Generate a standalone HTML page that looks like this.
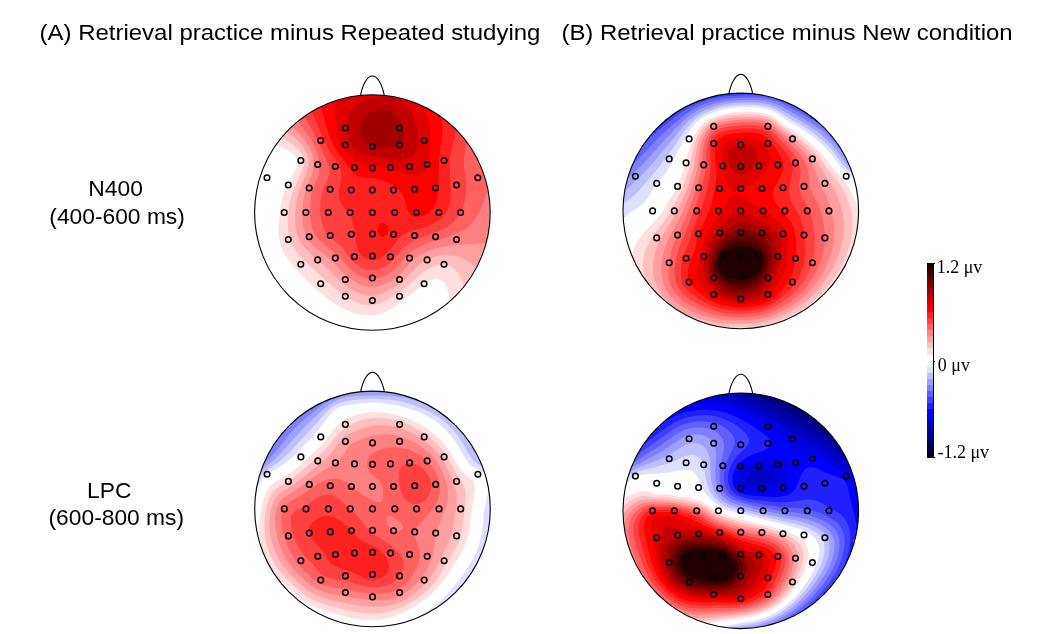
<!DOCTYPE html>
<html><head><meta charset="utf-8"><title>Topographic maps</title>
<style>
html,body{margin:0;padding:0;background:#fff}
body{width:1042px;height:634px;position:relative;overflow:hidden;font-family:"Liberation Sans",sans-serif;color:#000}
svg{position:absolute;left:0;top:0}
text{fill:#000}
.ttl{font-size:22.4px}
.lab{font-size:22.8px;text-anchor:middle}
.cb{font-family:"Liberation Serif",serif;font-size:18px}
.ol{fill:none;stroke:#000;stroke-width:1.1}
.el{fill:none;stroke:#000;stroke-width:1.5}
</style></head><body>
<svg width="1042" height="634" viewBox="0 0 1042 634">
<defs><clipPath id="hc"><circle r="117.6"/></clipPath></defs>
<g transform="translate(372.4 212.5)"><g clip-path="url(#hc)">
<rect x="-120" y="-120" width="240" height="240" fill="#fff"/>
<path fill="#ffdfdf" d="M-123 -123L123 -123 123 123 102.7 123 97.5 118.9 93 114.7 90 111.5 87 107.8 85 105 82.5 100.8 80.2 96 79 93 78 90 76.9 85.5 75.4 78 74.6 75 74 73.5 73.2 72 72.3 70.5 70.9 69 69 67.6 67.5 66.9 66 66.5 64.5 66.4 63 66.4 61.5 66.6 58.5 67.5 55.5 68.8 54 69.7 52.5 70.6 49.5 72.9 42 79.2 39 81.6 30 88 22.5 94 18 97 15 98.6 10.5 100.5 6 101.8 1.5 102.6 -3 102.9 -6 102.8 -9 102.6 -13.5 101.9 -16.5 101.1 -21 99.7 -24 98.5 -27 97.2 -31.5 94.8 -36 92.1 -39.3 90 -43.5 87 -47.4 84 -52.5 79.7 -57 75.8 -61.5 71.7 -66 67.3 -71.6 61.5 -79.8 52.5 -83.5 48 -86.6 43.5 -89.1 39 -90.4 36 -91.5 33 -92.4 30 -93 27 -93.5 24 -93.9 21 -94 16.5 -93.7 10.5 -91.8 -6 -91.1 -10.5 -90.4 -13.5 -89.5 -16.5 -88.3 -19.5 -86.8 -22.5 -84 -27.7 -76 -45 -75 -48 -74.8 -49.5 -74.7 -51 -75 -52.5 -75.7 -54 -76.5 -55.3 -78 -57.1 -79.5 -58.5 -81 -59.7 -84 -61.7 -90 -64.9 -103.5 -71.2 -111.3 -75 -117 -78 -123 -81.4Z"/>
<path fill="#ffbfbf" d="M-123 -123L123 -123 123 103.2 118.5 101.4 115.5 99.9 112.5 98.3 109.5 96.5 106.5 94.5 103.5 92.2 99.5 88.5 97.5 86.3 96 84.4 94 81 92.7 78 90.4 70.5 89.3 67.5 87.9 64.5 87.1 63 85.5 60.6 83.8 58.5 82.4 57 80.6 55.5 78.3 54 76.5 53.1 75 52.5 73.5 52.1 72 51.9 70.5 51.8 69 51.9 66 52.4 63 53.3 61.1 54 58.5 55.1 55.5 56.7 52.5 58.6 48 62 45 64.6 38.7 70.5 34.5 74.1 31.5 76.3 24.2 81 18 85.3 13.5 88 9 90.3 4.5 91.8 1.5 92.4 0 92.6 -3 92.7 -7.5 92.3 -10.5 91.7 -13.5 90.8 -18 89 -21 87.5 -24 85.7 -31.5 80.7 -37.5 76.1 -43.9 70.5 -67.5 48.5 -72 43.9 -75 40.5 -76.5 38.5 -78.1 36 -80.5 31.5 -82.2 27 -83.1 24 -83.7 21 -84.3 18 -84.6 15 -84.7 12 -84.8 7.5 -84.3 0 -83.3 -7.5 -81.9 -13.5 -80 -19.5 -75.7 -30 -70.5 -41.5 -69.3 -45 -68.5 -48 -68.3 -51 -68.4 -52.5 -68.7 -54 -69.1 -55.5 -70.5 -58.3 -72 -60.5 -73.5 -62.4 -75 -63.9 -78 -66.6 -82.5 -69.8 -95.5 -78 -104.3 -84 -114.3 -91.5 -123 -98.6Z"/>
<path fill="#ff9f9f" d="M-123 -123L123 -123 123 66 120 65 117 63.6 112.5 61.1 108 58.1 100.8 52.5 96.7 49.5 94.4 48 91.5 46.4 87 44.5 82.5 43.2 78 42.5 73.5 42.3 69 42.7 66 43.3 63 44.1 60 45.1 57 46.3 52.5 48.6 48.7 51 44.9 54 40.5 58.2 33.2 66 30 68.9 27.9 70.5 22.5 74 15 78.2 10.5 80.4 6 82.1 3 82.9 1.5 83.2 -1.5 83.4 -4.5 83.2 -6 83 -9 82.3 -13.5 80.7 -18 78.5 -22.5 75.7 -27 72.4 -31.2 69 -34.6 66 -45 55.9 -48 53.1 -52.2 49.5 -61.3 42 -66 37.5 -69 34 -71.6 30 -73.8 25.5 -75.4 21 -76.1 18 -76.6 15 -77.2 9 -77.3 3 -77.2 0 -76.8 -4.5 -75.5 -12 -74.5 -16.5 -73.2 -21 -71.1 -27 -65.9 -39 -64.9 -42 -64.1 -45 -63.6 -49.5 -63.7 -52.5 -64.2 -55.5 -64.6 -57 -66 -60.6 -67.3 -63 -69 -65.5 -70.6 -67.5 -73.5 -70.6 -78 -74.7 -86.2 -81 -93.2 -87 -98.1 -91.5 -102.7 -96 -111.3 -105 -116.7 -111 -123 -118.5Z"/>
<path fill="#ff8080" d="M-109 -123L123 -123 123 22.4 120 25.4 117 27.6 114 29.2 111.9 30 109.5 30.7 106.5 31.3 103.5 31.6 85.5 32.4 79.5 32.9 75 33.5 69 34.6 64.5 35.7 58.5 37.6 54 39.4 49.5 41.5 46.5 43.2 43.5 45.2 40.5 47.6 37.5 50.6 28.5 60.9 26.3 63 24 64.9 21 67 16.5 69.5 12 71.6 9 72.8 4.5 74 1.5 74.5 -1.5 74.6 -4.5 74.3 -7.5 73.7 -10.5 72.8 -13.5 71.5 -18 69 -22.5 65.8 -25.5 63.3 -28.5 60.7 -32.2 57 -39 49.5 -42 46.7 -54 37.5 -58.5 33.7 -60.7 31.5 -63 28.8 -64.5 26.7 -66 24 -67.3 21 -68.2 18 -68.9 15 -69.4 12 -69.8 9 -70.2 4.5 -70.2 1.5 -70 -3 -69.6 -7.5 -68.8 -13.5 -68 -18 -66.9 -22.5 -66 -25.3 -65.3 -27 -62.5 -33 -61.3 -36 -60.3 -39 -59.6 -42 -59.1 -46.5 -59 -51 -59.4 -55.5 -60.1 -58.5 -61.2 -61.5 -63 -65.4 -65.2 -69 -67.5 -72.3 -69 -74.1 -72 -77.5 -83.1 -88.5 -87.1 -93 -90.8 -97.5 -95.5 -103.5 -100 -109.5 -104.1 -115.5Z"/>
<path fill="#ff6060" d="M-93.9 -123L123 -123 123 -103.5 119.2 -91.5 111 -67.2 109.1 -60 108.5 -57 108.2 -54 108.1 -51 108.2 -49.5 108.6 -46.5 109.5 -44.2 111.5 -40.5 113.1 -37.5 113.7 -36 114.5 -33 114.8 -31.5 115.1 -28.5 115 -25.5 114.7 -22.5 114.1 -19.5 113.3 -16.5 112.3 -13.5 110.6 -9 108.7 -4.5 106.6 0 105 3 103.1 6 100.9 9 99.7 10.5 96.6 13.5 92.7 16.5 90.3 18 87.5 19.5 84 21.1 78 23.4 60 29.3 53.8 31.5 48 33.9 45 35.4 42 37.2 39.3 39 37.5 40.4 34.5 43.1 31.5 46.4 25.5 53.5 23.6 55.5 21 57.9 18.2 60 16.5 61.1 12 63.5 9 64.7 4.5 65.9 1.5 66.3 0 66.3 -3 66.2 -6 65.6 -9.6 64.5 -13.5 62.7 -16.5 60.9 -21 57.6 -24.9 54 -27.7 51 -33 44.5 -36 41.4 -39 38.8 -48 32 -52 28.5 -54 26.4 -55.9 24 -57.8 21 -59.2 18 -60.3 15 -61 12 -61.6 9 -62 6 -62.4 0 -62.2 -7.5 -61.8 -12 -61.3 -16.5 -60.8 -19.5 -60 -22.5 -58.9 -25.5 -56.1 -31.5 -54.9 -34.5 -53.9 -37.5 -53.3 -40.5 -53.1 -43.5 -53.5 -51 -53.8 -54 -54.4 -57 -55.3 -60 -57.1 -64.5 -59.3 -69 -61.5 -73 -63.7 -76.5 -66 -79.8 -76.1 -93 -81.4 -100.5 -84.2 -105 -87.7 -111 -91 -117Z"/>
<path fill="#ff4040" d="M-80 -123L103.2 -123 102.7 -115.5 102.1 -108 101.2 -100.5 100.3 -94.5 98.2 -84 93 -63.3 92.1 -58.5 91.7 -55.5 91.5 -51 91.7 -46.5 92.2 -42 93.4 -34.5 93.7 -30 93.7 -22.5 93.3 -18 93 -15 92.4 -12 91.7 -9 90.3 -4.5 88.2 0 86.4 3 85.4 4.5 82.9 7.5 79.8 10.5 75.7 13.5 72 15.7 67.5 18 63 19.9 49.5 24.9 43.5 27.3 39 29.5 36 31.4 33 33.8 30 36.6 27 40 21.6 46.5 18.7 49.5 15 52.6 12.8 54 10.5 55.3 7.5 56.5 4.5 57.3 1.5 57.8 0 57.8 -3 57.6 -6 57 -10 55.5 -13.5 53.6 -16.5 51.5 -19.5 48.9 -21.7 46.5 -28.5 37.2 -31.5 33.7 -34.5 30.9 -42 24.8 -44.3 22.5 -45.4 21 -47.3 18 -48.1 16.5 -49.3 13.5 -50.3 10.5 -51 7.5 -51.9 1.5 -52.1 -1.5 -52.2 -6 -51.9 -12 -51.3 -16.5 -50.1 -21 -48.4 -25.5 -44.5 -34.5 -43.5 -37.5 -42.8 -40.5 -42.7 -42 -42.7 -43.5 -43 -45 -44 -48 -46.5 -53.5 -50.6 -63 -56.3 -75 -60 -82.1 -69.8 -99 -73.6 -106.5 -76.8 -114 -78.5 -118.5Z"/>
<path fill="#ff2020" d="M-66.4 -123L81.6 -123 82.9 -115.5 83.7 -108 84.2 -100.5 84.2 -93 83.8 -87 83.1 -81 81.9 -75 78.6 -60 77.8 -55.5 77.5 -52.5 77.3 -49.5 77.4 -46.5 77.8 -28.5 78.3 -18 78.1 -13.5 77.7 -10.5 77.1 -7.5 76.1 -4.5 75.4 -3 73.8 0 72.8 1.5 70.5 4.2 67.5 6.9 64.6 9 61.5 10.8 58.5 12.3 55.5 13.5 51 15.2 39 18.5 36 19.5 33 20.8 30.2 22.5 28.3 24 27 25.2 25.5 26.9 19.5 34.9 17.3 37.5 15 40.1 13 42 11.2 43.5 9 45 7.5 45.8 6 46.5 3 47.5 1.5 47.7 0 47.8 -1.5 47.7 -3 47.4 -4.5 46.9 -6 46.3 -8.2 45 -10.1 43.5 -11.6 42 -12.7 40.5 -13.5 39.2 -14.3 37.5 -15.3 34.5 -16.3 30 -17.5 21 -19.6 12 -21 3.3 -21.6 1.5 -22.5 -0.2 -23.9 -1.5 -27.8 -4.5 -30 -6.8 -31.5 -9 -32.2 -10.5 -33 -12.9 -33.6 -16.5 -33.6 -18 -33.5 -21 -33.1 -24 -31.7 -31.5 -31.2 -36 -31.4 -40.5 -31.9 -43.5 -32.4 -45 -33 -46.6 -34.6 -49.5 -40.1 -57 -43 -61.5 -46.1 -67.5 -49 -73.5 -59.2 -97.5 -62.1 -105 -63.5 -109.5 -64.7 -114 -65.6 -118.5Z"/>
<path fill="#ff0000" d="M-51.4 -123L60.6 -123 62.6 -118.5 64.5 -114 66.5 -108 67.8 -103.5 68.7 -99 69.6 -93 69.9 -88.5 70 -84 69.8 -79.5 69.4 -75 67.3 -58.5 66.9 -54 66.6 -49.5 66.2 -25.5 66 -22.5 65.6 -19.5 64.5 -13.5 63 -8.8 61.7 -6 60.7 -4.5 59.5 -3 58.1 -1.5 56.4 0 54.3 1.5 51.5 3 49.5 3.8 46.7 4.5 45 4.7 42.7 4.5 40.5 3.8 39 3 37.5 1.7 36.3 0 35.6 -1.5 34.5 -4.5 33 -10.5 32.1 -13.5 30.9 -16.5 30.1 -18 28.5 -20.5 26.8 -22.5 25.2 -24 23.3 -25.5 21 -27 19.5 -27.8 15 -30 10.5 -31.8 6 -33.2 3 -34 0 -34.5 -9 -34.9 -12 -35.4 -13.5 -35.9 -15 -36.5 -16.5 -37.4 -18 -38.6 -19.5 -40.1 -21 -41.9 -22.5 -43.9 -27.3 -51 -33.2 -58.5 -36 -62.4 -37.3 -64.5 -39 -67.5 -41.6 -73.5 -43.8 -79.5 -47.9 -93 -49.6 -99 -51 -105 -51.7 -109.5 -52 -114 -51.9 -118.5ZM7.1 12L7.5 11.6 9 10.8 10.5 10.5 12 10.7 13.5 11.4 14.2 12 15.4 13.5 15.9 15 16 16.5 15.9 18 15.4 19.5 14.8 21 13.7 22.5 12 24 10.5 24.5 9 24.3 7.5 23.4 6.8 22.5 6 21 5.6 19.5 5.3 18 5.3 16.5 5.5 15 6 13.5Z"/>
<path fill="#e00000" d="M-30.4 -121.5L-28.7 -123 37.6 -123 39.2 -121.5 42 -118.5 45.4 -114 49.3 -108 51.8 -103.5 53.2 -100.5 54.9 -96 56.1 -91.5 57 -87 57.6 -81 57.7 -73.5 57 -58.8 56.3 -49.5 55.7 -46.5 54.4 -43.5 52.5 -40.6 51 -39 49.5 -37.9 48 -37.1 46.5 -36.7 45 -36.4 43.5 -36.4 40.5 -36.6 37.5 -37.2 33 -38.4 15.4 -43.5 4.5 -46.5 0 -47.4 -7.5 -48.3 -10.5 -48.9 -13.5 -49.9 -16.5 -51.6 -19.5 -53.9 -24 -58.1 -27 -61.3 -29.5 -64.5 -31.4 -67.5 -32.7 -70.5 -34.1 -75 -35.1 -79.5 -36.5 -88.5 -37.5 -96 -37.8 -100.5 -37.7 -105 -37.4 -108 -36.6 -111 -35.5 -114 -33.9 -117 -31.8 -120Z"/>
<path fill="#c00000" d="M5.7 -115.5L9 -116 12 -116.2 15 -116.1 16.5 -115.9 19.5 -115.2 21 -114.8 22.9 -114 25.5 -112.7 28.2 -111 30 -109.6 33.3 -106.5 35.9 -103.5 37.5 -101.3 39 -99 40.7 -96 42.1 -93 43.2 -90 44.1 -87 44.8 -84 45.2 -81 45.5 -78 45.6 -75 45.3 -70.5 45 -67.5 44.3 -64.5 43.5 -62 42.6 -60 41.6 -58.5 40.5 -57.2 39 -55.9 37.5 -55 36 -54.3 34.5 -53.8 31.5 -53.1 28.5 -52.8 24 -52.8 18 -53.3 12 -54.1 1.5 -55.9 -4.5 -57.1 -7.5 -58 -10.5 -59.2 -12.1 -60 -15 -61.8 -18 -64.1 -20 -66 -21.3 -67.5 -22.3 -69 -23.1 -70.5 -23.8 -72 -24.2 -73.5 -24.5 -75 -24.9 -78 -24.9 -81 -24.7 -90 -24.2 -94.5 -23.5 -97.5 -22.3 -100.5 -21 -103 -19.5 -105.1 -18.2 -106.5 -16.5 -108 -14.3 -109.5 -12 -110.7 -9 -111.9 -6 -112.9Z"/>
<path fill="#a00000" d="M5.5 -103.5L7.5 -103.7 9 -103.7 12 -103.3 15 -102.5 18 -101.1 21 -99.2 23 -97.5 25.7 -94.5 27.7 -91.5 29.1 -88.5 30 -86.2 30.6 -84 31.2 -81 31.3 -79.5 31.3 -76.5 30.8 -73.5 30.3 -72 29.6 -70.5 28.6 -69 27.1 -67.5 25.5 -66.5 24 -65.9 21 -65.1 18 -64.6 15 -64.4 10.5 -64.5 7.5 -64.7 4.5 -65 1.5 -65.6 0 -66 -3 -67.3 -5.8 -69 -7.6 -70.5 -9 -72 -10.5 -74.3 -11.5 -76.5 -11.9 -78 -12.2 -79.5 -12.3 -82.5 -12.1 -85.5 -11.4 -88.5 -10.5 -91 -9.5 -93 -7.5 -95.9 -6 -97.5 -4.5 -98.8 -3 -99.9 -1.5 -100.8 1.5 -102.3 3 -102.8Z"/>
<path fill="#dfdfff" d="M-123 60L-123 58.7 -118.7 66 -114.9 72 -110.7 78 -106.5 83.6 -103.5 87.2 -99.7 91.5 -96.7 94.5 -93.4 97.5 -88.5 101.5 -84 104.8 -79.1 108 -73.5 111.4 -67.5 114.8 -61.5 118 -55.5 120.8 -50.2 123 -123 123Z"/>
<path fill="#bfbfff" d="M-123 100.5L-123 100.3 -116.9 106.5 -113.7 109.5 -109.5 113.2 -103.5 118 -96.4 123 -123 123Z"/>
</g>
<path class="ol" d="M-11.9 -117.2C-9.6 -128.2 -5.2 -136.5 0 -136.5C5.2 -136.5 9.6 -128.2 11.9 -117.2"/>
<circle class="ol" r="117.8"/>
<circle class="el" cx="-27.1" cy="-84.5" r="2.8"/>
<circle class="el" cx="27.1" cy="-84.5" r="2.8"/>
<circle class="el" cx="-51.7" cy="-72.0" r="2.8"/>
<circle class="el" cx="-27.1" cy="-67.5" r="2.8"/>
<circle class="el" cx="0" cy="-66.0" r="2.8"/>
<circle class="el" cx="27.1" cy="-67.5" r="2.8"/>
<circle class="el" cx="51.7" cy="-72.0" r="2.8"/>
<circle class="el" cx="-71.6" cy="-52.0" r="2.8"/>
<circle class="el" cx="-54.7" cy="-48.0" r="2.8"/>
<circle class="el" cx="-37.1" cy="-46.0" r="2.8"/>
<circle class="el" cx="-18.0" cy="-45.0" r="2.8"/>
<circle class="el" cx="0" cy="-44.5" r="2.8"/>
<circle class="el" cx="18.0" cy="-45.0" r="2.8"/>
<circle class="el" cx="37.1" cy="-46.0" r="2.8"/>
<circle class="el" cx="54.7" cy="-48.0" r="2.8"/>
<circle class="el" cx="71.6" cy="-52.0" r="2.8"/>
<circle class="el" cx="-105.4" cy="-34.7" r="2.8"/>
<circle class="el" cx="-84.1" cy="-27.5" r="2.8"/>
<circle class="el" cx="-63.2" cy="-24.5" r="2.8"/>
<circle class="el" cx="-42.2" cy="-23.2" r="2.8"/>
<circle class="el" cx="-21.1" cy="-22.4" r="2.8"/>
<circle class="el" cx="0" cy="-22.4" r="2.8"/>
<circle class="el" cx="21.1" cy="-22.4" r="2.8"/>
<circle class="el" cx="42.2" cy="-23.2" r="2.8"/>
<circle class="el" cx="63.2" cy="-24.5" r="2.8"/>
<circle class="el" cx="84.1" cy="-27.5" r="2.8"/>
<circle class="el" cx="105.4" cy="-34.7" r="2.8"/>
<circle class="el" cx="-88.2" cy="0" r="2.8"/>
<circle class="el" cx="-66.5" cy="0" r="2.8"/>
<circle class="el" cx="-44.1" cy="0" r="2.8"/>
<circle class="el" cx="-22.3" cy="0" r="2.8"/>
<circle class="el" cx="0" cy="0" r="2.8"/>
<circle class="el" cx="22.3" cy="0" r="2.8"/>
<circle class="el" cx="44.1" cy="0" r="2.8"/>
<circle class="el" cx="66.5" cy="0" r="2.8"/>
<circle class="el" cx="88.2" cy="0" r="2.8"/>
<circle class="el" cx="-84.1" cy="27.0" r="2.8"/>
<circle class="el" cx="-63.2" cy="24.2" r="2.8"/>
<circle class="el" cx="-42.2" cy="23.0" r="2.8"/>
<circle class="el" cx="-21.1" cy="21.8" r="2.8"/>
<circle class="el" cx="0" cy="21.5" r="2.8"/>
<circle class="el" cx="21.1" cy="21.8" r="2.8"/>
<circle class="el" cx="42.2" cy="23.0" r="2.8"/>
<circle class="el" cx="63.2" cy="24.2" r="2.8"/>
<circle class="el" cx="84.1" cy="27.0" r="2.8"/>
<circle class="el" cx="-71.6" cy="51.8" r="2.8"/>
<circle class="el" cx="-54.7" cy="47.4" r="2.8"/>
<circle class="el" cx="-37.1" cy="45.6" r="2.8"/>
<circle class="el" cx="-18.0" cy="44.2" r="2.8"/>
<circle class="el" cx="0" cy="43.5" r="2.8"/>
<circle class="el" cx="18.0" cy="44.2" r="2.8"/>
<circle class="el" cx="37.1" cy="45.6" r="2.8"/>
<circle class="el" cx="54.7" cy="47.4" r="2.8"/>
<circle class="el" cx="71.6" cy="51.8" r="2.8"/>
<circle class="el" cx="-51.7" cy="71.2" r="2.8"/>
<circle class="el" cx="-27.1" cy="67.0" r="2.8"/>
<circle class="el" cx="0" cy="65.5" r="2.8"/>
<circle class="el" cx="27.1" cy="67.0" r="2.8"/>
<circle class="el" cx="51.7" cy="71.2" r="2.8"/>
<circle class="el" cx="-27.1" cy="83.7" r="2.8"/>
<circle class="el" cx="0" cy="88.0" r="2.8"/>
<circle class="el" cx="27.1" cy="83.7" r="2.8"/>
</g>
<g transform="translate(740.8 210.9)"><g clip-path="url(#hc)">
<rect x="-120" y="-120" width="240" height="240" fill="#fff"/>
<path fill="#ffdfdf" d="M-2 -99L3 -99.2 7.5 -99.2 13.5 -98.9 18 -98.5 21 -98.1 24 -97.5 27 -96.6 30 -95.4 31.7 -94.5 34.5 -92.8 43.5 -86 54 -79.5 60.6 -75 64.4 -72 71.5 -66 74.8 -63 77.9 -60 80.8 -57 84.6 -52.5 87 -49.5 91.5 -43.3 93.7 -40.5 96.5 -37.5 101.2 -33 103.5 -30.5 104.9 -28.5 106.8 -25.5 110.8 -18 113.7 -12 115.5 -7.5 117.1 -3 118.3 1.5 119 6 119.4 12 119.4 16.5 118.9 22.5 118.2 27 116.9 33 115.5 38 113.6 43.5 111.1 49.5 109.1 54 105.9 60 103.1 64.5 100 69 96.5 73.5 92.6 78 88.4 82.5 82.3 88.5 77.3 93 72 97.2 67.5 100.3 62.1 103.5 57 106.1 52.5 108.2 42 112.7 37.5 114.5 33 116 28.5 117.3 25.5 118 19.5 119 13.5 119.6 9 119.8 0 119.9 -12 120.6 -16.5 120.6 -21 120.5 -25.5 120.2 -30 119.7 -34.5 119 -39 118.1 -48 116 -57 113.4 -64.5 110.8 -70.5 108.1 -76 105 -81 101.6 -86 97.5 -89.1 94.5 -91.9 91.5 -94.4 88.5 -96.7 85.5 -98.8 82.5 -100.7 79.5 -102.4 76.5 -103.9 73.5 -105.8 69 -106.8 66 -107.7 63 -108.4 60 -109.1 55.5 -109.4 52.5 -109.4 49.5 -109.2 46.5 -108.3 42 -106.9 37.5 -104.8 33 -102.2 28.5 -100.1 25.5 -96.4 21 -93.6 18 -85.5 9.6 -82.5 6.3 -79.9 3 -77.8 0 -75 -4.5 -69.7 -13.5 -64.5 -22.1 -63.5 -24 -62.8 -25.5 -59.1 -36 -55.2 -46.5 -54.4 -49.5 -52.6 -58.5 -51.8 -61.5 -50.3 -66 -48 -72 -45.9 -76.5 -44.2 -79.5 -42.1 -82.5 -39.5 -85.5 -38 -87 -36 -88.7 -33 -90.8 -31.5 -91.6 -28.5 -93 -22.5 -95.2 -16.5 -96.9 -13.5 -97.5 -9 -98.3Z"/>
<path fill="#ffbfbf" d="M-7.5 -96L-3 -96.5 1.5 -96.7 7.5 -96.7 13.5 -96.5 18 -96.1 21 -95.7 24 -95 27 -94.1 30 -92.7 33 -91 36 -88.8 42 -84 45 -81.9 54 -76 57.4 -73.5 61.1 -70.5 66.3 -66 71.2 -61.5 74.2 -58.5 77 -55.5 79.4 -52.5 81.7 -49.5 87.9 -40.5 90 -37.7 93 -34.1 97.5 -29 100 -25.5 101.8 -22.5 103.5 -19.2 105.4 -15 107.2 -10.5 108.3 -7.5 109.7 -3 110.8 1.5 111.3 4.5 111.7 9 111.8 13.5 111.6 18 111.2 22.5 110.4 27 109.5 31.5 108.3 36 106.8 40.5 105.2 45 103.4 49.5 101.3 54 99 58.5 96.3 63 93.3 67.5 91.1 70.5 87.4 75 83.4 79.5 79.2 84 76.2 87 72.9 90 69.3 93 66 95.5 63 97.5 58.5 100.3 54 102.7 49.2 105 39 109.6 34.5 111.4 30 112.9 27 113.7 22.5 114.7 18 115.4 10.5 116 0 116.2 -12 116.6 -19.5 116.5 -27 115.8 -31.5 115 -37.5 113.7 -49.5 110.2 -57 107.7 -61.5 105.9 -64.5 104.4 -67.5 102.8 -71.3 100.5 -75 97.8 -77.2 96 -79.5 93.8 -81.7 91.5 -84.3 88.5 -86.5 85.5 -88.6 82.5 -90.4 79.5 -92 76.5 -94.1 72 -95.2 69 -96.5 64.5 -97.1 61.5 -97.5 58.5 -97.8 55.5 -97.8 52.5 -97.6 49.5 -97.3 46.5 -96.6 43.5 -95.8 40.5 -94.7 37.5 -93.3 34.5 -90.9 30 -88.1 25.5 -84.8 21 -76.5 10 -73.5 5.7 -70.5 1 -67.5 -4.4 -61.5 -16 -58.5 -22.5 -57 -26.6 -52.5 -40.2 -51 -45 -50.1 -49.5 -48.6 -58.5 -47.6 -63 -46.7 -66 -44.6 -72 -43.3 -75 -41.7 -78 -39.8 -81 -38.6 -82.5 -36 -85.4 -33 -87.9 -30 -89.8 -25.5 -91.7 -19.5 -93.7 -13.5 -95.1Z"/>
<path fill="#ff9f9f" d="M-10.9 -93L-6 -93.6 -1.5 -94 3 -94.2 9 -94.2 13.5 -94 18 -93.6 22.5 -92.9 25.5 -92.1 28.5 -90.9 30 -90.1 33 -88.1 42 -80.9 52.3 -73.5 57.8 -69 62.8 -64.5 67.4 -60 71.6 -55.5 74 -52.5 76.1 -49.5 78 -46.5 85.5 -33.3 87.6 -30 91.8 -24 93.7 -21 96 -16.5 97.5 -13 98.9 -9 101.1 -1.5 102 2.6 102.5 6 102.9 9 103.1 13.5 103.1 18 102.8 22.5 102.2 27 101.3 31.5 100.2 36 98.9 40.5 97.4 45 95.7 49.5 93.7 54 91.4 58.5 88.8 63 86.8 66 84.7 69 81.3 73.5 74.9 81 72 84 68.9 87 66 89.5 63 91.9 59.3 94.5 55.5 96.9 51 99.5 46.2 102 39 105.5 34.5 107.4 30 109 27 109.9 22.5 111 18 111.8 13.5 112.3 9 112.6 -9 113 -16.5 112.8 -24 112.1 -27 111.6 -31.5 110.7 -37.5 109.1 -49.8 105 -53.7 103.5 -57.1 102 -60 100.6 -62.9 99 -67.5 96 -70.5 93.6 -72.8 91.5 -75 89.1 -76.8 87 -79 84 -80.9 81 -82.5 78 -84 75 -85.1 72 -86.1 69 -86.8 66 -87.4 63 -87.7 60 -87.8 57 -87.8 54 -87.6 51 -87.2 48 -86.6 45 -85.9 42 -85 39 -83.3 34.5 -82 31.5 -80.4 28.5 -76.9 22.5 -69 9.9 -64.5 2 -60 -7.5 -55.4 -18 -52.5 -26.2 -49.5 -35.6 -48.1 -40.5 -46.7 -46.5 -44.9 -58.5 -44.1 -63 -42.4 -69 -41.4 -72 -40.1 -75 -38.4 -78 -37.5 -79.5 -35.2 -82.5 -33.8 -84 -32.1 -85.5 -30 -87.1 -27 -88.7 -22.5 -90.3 -16.5 -91.9Z"/>
<path fill="#ff8080" d="M0.4 -91.5L6 -91.6 10.5 -91.6 15 -91.4 18 -91.1 21 -90.6 24 -89.9 27 -88.9 28.5 -88.2 30.5 -87 32.5 -85.5 40.5 -78.6 49 -72 52.7 -69 55.9 -66 60.5 -61.5 64.6 -57 67.1 -54 69.3 -51 70.3 -49.5 72.6 -45 74.5 -40.5 78 -30.2 79.2 -27 81 -23.2 85.5 -14.6 87 -11.2 88.4 -7.5 91.7 4.5 93 10.5 93.4 13.5 93.7 18 93.7 21 93.5 25.5 93 30 92.3 34.5 91.2 39 90 43.5 88.5 48 86.8 52.5 84.7 57 83.2 60 80.6 64.5 77.6 69 74.3 73.5 70.7 78 68 81 65 84 61.7 87 57.9 90 53.7 93 49.5 95.6 45 98.3 40.5 100.7 36 102.8 31.5 104.7 28.5 105.8 24 107.1 21 107.7 16.5 108.5 9 109.2 3 109.4 -6 109.5 -12 109.4 -16.5 109.1 -24 108.2 -30 106.9 -36.5 105 -44.7 102 -51.8 99 -57 96.4 -61.5 93.5 -64.2 91.5 -65.9 90 -69 86.9 -70.5 85.1 -72.5 82.5 -75.1 78 -77.1 73.5 -78.4 69 -79.2 64.5 -79.5 60 -79.2 54 -78.5 48 -77.7 43.5 -76.5 39 -75 34.5 -73.8 31.5 -71.7 27 -63 10.7 -59.9 4.5 -57.3 -1.5 -54 -9.4 -51.8 -15 -50.3 -19.5 -46 -33 -44 -40.5 -42.9 -46.5 -41.2 -60 -40.1 -66 -39.2 -69 -38.2 -72 -36 -76.5 -34.1 -79.5 -31.5 -82.6 -30 -84 -28.5 -85.1 -27 -86 -25.5 -86.7 -22.5 -87.8 -20 -88.5 -13.5 -89.9 -6 -91Z"/>
<path fill="#ff6060" d="M-2.6 -88.5L3 -88.8 7.5 -88.9 12 -88.8 16.5 -88.5 19.5 -88.2 22.5 -87.6 24.6 -87 27 -86.1 28.5 -85.3 31.5 -83 39 -76.1 48.9 -67.5 52 -64.5 54.9 -61.5 57.6 -58.5 60 -55.5 62.2 -52.5 64 -49.5 65.4 -46.5 66.5 -43.5 67.2 -40.5 67.7 -37.5 68.5 -27 69 -24 69.5 -22.5 70.7 -19.5 76.8 -7.5 78 -4.5 79.6 0 81.3 6 82.7 12 83.6 18 84 22.5 84.1 27 83.9 30 83 37.5 81.5 45 80.2 49.5 79.2 52.5 78 55.5 75.9 60 74.3 63 71.6 67.5 67.6 73.5 65.2 76.5 62.6 79.5 59.6 82.5 57 84.9 54.4 87 50.4 90 46 93 42 95.5 38.5 97.5 34.5 99.6 31.5 100.9 28.5 102.1 25.5 103.1 21 104.3 18 104.9 13.5 105.5 6 106.1 -3 106.3 -10.5 106.1 -18 105.4 -24 104.3 -30 102.8 -36.8 100.5 -44 97.5 -51 94 -55.5 91.3 -57.4 90 -60 88 -63 85.2 -64.5 83.5 -66.4 81 -67.5 79.4 -69.1 76.5 -69.8 75 -70.9 72 -72 67.5 -72.4 63 -72.5 60 -72.3 57 -70.9 46.5 -70.1 42 -68.8 37.5 -67.7 34.5 -65.8 30 -56.2 9 -50.2 -6 -47 -15 -41.6 -33 -40.1 -39 -39.4 -43.5 -38 -58.5 -37.4 -63 -36.8 -66 -36 -69 -34.2 -73.5 -32.6 -76.5 -31.5 -78.1 -30 -80 -28.5 -81.6 -27.4 -82.5 -24.9 -84 -20.8 -85.5 -15 -86.9 -9 -87.8Z"/>
<path fill="#ff4040" d="M-1.9 -85.5L7.5 -85.8 12 -85.8 16.5 -85.5 19.5 -85.1 22.5 -84.5 25.5 -83.5 27 -82.7 29.3 -81 31.5 -79 46.3 -64.5 49 -61.5 51.6 -58.5 54.9 -54 56.8 -51 58.2 -48 59.1 -45 59.6 -42 59.8 -39 59.7 -36 58.7 -28.5 58.5 -25.5 58.6 -22.5 59.1 -19.5 60.1 -16.5 61.4 -13.5 63 -10.5 66.6 -4.5 68.1 -1.5 69.4 1.5 70.3 4.5 71.8 10.5 72.8 16.5 73.6 24 74 31.5 74 36 73.8 39 73.1 45 71.8 51 70.3 55.5 69.1 58.5 67 63 63.8 69 61.9 72 59.7 75 57.1 78 55.7 79.5 52.4 82.5 48.9 85.5 45.1 88.5 40.9 91.5 36 94.7 33 96.3 30 97.7 27 98.9 24 99.9 21 100.8 16.5 101.7 13.5 102.2 9 102.7 1.5 103.1 -6 103 -12 102.6 -18 101.8 -24 100.5 -30 98.7 -36 96.3 -42.9 93 -48 90.1 -52.8 87 -56.5 84 -59.4 81 -61.7 78 -63.4 75 -64 73.5 -65.1 70.5 -65.7 67.5 -66.2 63 -66.1 58.5 -65.3 51 -64.6 46.5 -63.4 42 -61.5 36.6 -50.9 10.5 -43.7 -9 -41.8 -15 -37.2 -31.5 -36.2 -36 -35.3 -42 -34.9 -48 -34.4 -58.5 -33.9 -63 -33 -67.5 -31.5 -71.7 -29.7 -75 -28.5 -76.7 -27.4 -78 -25.5 -79.8 -24 -80.8 -22.5 -81.6 -19.5 -82.7 -14.1 -84 -7.5 -85Z"/>
<path fill="#ff2020" d="M-11.4 -81L-6 -81.7 -1.5 -82.1 4.5 -82.4 9 -82.4 13.5 -82.3 16.5 -82 19.5 -81.5 22.5 -80.7 25 -79.5 27 -78.1 30.4 -75 34.7 -70.5 40.1 -64.5 43.8 -60 46.1 -57 48.9 -52.5 50.4 -49.5 51.3 -46.5 51.8 -43.5 51.8 -40.5 51.4 -37.5 50.8 -34.5 49.1 -27 48.3 -22.5 48.2 -19.5 48.3 -18 48.6 -15 49.4 -12 50.6 -9 52.2 -6 57.6 3 59.1 6 60.3 9 61.2 12 62.2 16.5 63.8 28.5 64.3 34.5 64.4 40.5 63.9 46.5 63.2 51 61.6 57 60.1 61.5 58.9 64.5 56.8 69 55.5 71.1 54 73.3 52.5 75.1 49.7 78 41.6 85.5 37.5 88.9 33 92.1 28.5 94.5 25.5 95.7 22.5 96.8 16.5 98.3 10.5 99.3 4.5 99.8 -1.5 99.9 -7.5 99.6 -13.5 98.9 -19.5 97.8 -24 96.6 -28.5 95 -33 93.1 -38.7 90 -45 86 -49.8 82.5 -53.2 79.5 -55.8 76.5 -57.7 73.5 -58.9 70.5 -59.3 69 -59.8 66 -60 61.5 -59.8 57 -59.1 51 -58.5 48 -58.1 46.5 -57 43.4 -53.1 34.5 -48 19.6 -44.4 10.5 -37.7 -7.5 -36.8 -10.5 -35.5 -15 -32.3 -28.5 -31.1 -34.5 -30.6 -39 -30.3 -45 -30.5 -55.5 -30.4 -60 -29.9 -64.5 -29.2 -67.5 -28.5 -69.5 -27 -72.4 -25.5 -74.4 -23.4 -76.5 -21 -78.1 -18 -79.4 -15 -80.2Z"/>
<path fill="#ff0000" d="M-3 -78L1.5 -78.3 6 -78.4 10.5 -78.3 13.5 -78.1 18 -77.3 20.3 -76.5 22.5 -75.5 25.3 -73.5 26.9 -72 30.9 -67.5 34.4 -63 36.5 -60 38.4 -57 40.1 -54 41.4 -51 42.3 -48 42.6 -45 42.4 -42 41.6 -39 40.5 -36 39 -33 34.9 -25.5 33.5 -22.5 33 -21 32.4 -18 32.3 -16.5 32.4 -15 32.6 -13.5 33.6 -10.5 35.2 -7.5 36.2 -6 39.7 -1.5 45 4.4 47.5 7.5 49.6 10.5 51.3 13.5 52.5 16.3 53.1 18 54.3 22.5 55 27 55.4 33 55.5 36 55.3 40.5 55 45 54.4 49.5 53 57 52.3 60 51.4 63 49.5 67.5 47.6 70.5 39 81 36.3 84 33 87.2 31.4 88.5 29.1 90 25.5 91.8 21 93.5 18 94.4 15 95.1 9 96.1 4.5 96.5 1.5 96.6 -3 96.6 -7.5 96.2 -12 95.6 -16.5 94.7 -21 93.5 -24 92.5 -28.5 90.6 -31.5 89 -34.6 87 -40.4 82.5 -45.8 78 -49.5 74.3 -51.2 72 -52 70.5 -52.4 69 -52.7 67.5 -52.9 64.5 -52.9 61.5 -52.6 58.5 -52.1 55.5 -51.5 52.5 -50.6 49.5 -47.7 43.5 -46.5 40.5 -45.6 37.5 -43.7 28.5 -42.5 24 -42 22.5 -40.8 19.5 -35.1 7.5 -31.2 -1.5 -29.1 -7.5 -27.9 -12 -26.8 -18 -25.3 -28.5 -24.8 -33 -24.6 -36 -24.5 -40.5 -24.6 -43.5 -25.7 -54 -25.9 -58.5 -25.7 -63 -25 -66 -24 -68.5 -22.5 -70.8 -21 -72.4 -19.5 -73.6 -18 -74.5 -15 -75.8 -12 -76.7 -7.5 -77.5Z"/>
<path fill="#e00000" d="M-8.8 -72L-6 -72.5 -1.5 -73.1 3 -73.3 7.5 -73.2 10.5 -73 13.5 -72.4 15.1 -72 18 -70.8 20.8 -69 22.4 -67.5 24 -65.7 25.9 -63 27.5 -60 28.7 -57 29.5 -54 29.8 -51 29.7 -49.5 29.4 -48 28.9 -46.5 28.1 -45 27.1 -43.5 19.6 -34.5 16.8 -31.5 15 -29.8 12 -27.3 10.5 -26.2 7.5 -24.5 4.5 -23.3 0 -22.4 -2.8 -21 -4.5 -19.8 -5.5 -19.5 -6 -19 -7.5 -19.5 -9 -20.4 -9.5 -21 -10.5 -21.9 -12 -23.9 -12.9 -25.5 -13.5 -26.6 -14.3 -28.5 -15.3 -31.5 -16.5 -36.3 -18 -45 -19.7 -52.5 -20.2 -57 -20.1 -60 -19.6 -63 -19.1 -64.5 -18 -66.4 -16.5 -68.2 -15 -69.4 -13.5 -70.3 -12 -71ZM-7.2 -16.5L-6 -17.2 1.5 -14.1 4.5 -12.6 7.5 -10.9 13.5 -6.7 22.3 0 30 4.9 33 7 36 9.3 39 11.9 40.5 13.4 42 15.2 44 18 45 19.7 46.1 22.5 46.6 24 47.1 27 47.4 30 47.5 33 47.2 39 45.9 51 45.4 54 44.7 57 43.2 61.5 41.8 64.5 37.4 72 33.3 79.5 31.3 82.5 30 84 28.5 85.5 25.5 87.5 22.5 88.9 18 90.6 13.5 91.8 9 92.6 4.5 93.1 0 93.3 -4.5 93.1 -9 92.6 -13.5 91.7 -18 90.5 -22.5 88.8 -25.5 87.4 -28.5 85.6 -30.5 84 -33.6 81 -37.4 76.5 -39.8 73.5 -41.8 70.5 -42.6 69 -43.3 67.5 -44 64.5 -44.3 61.5 -44.2 60 -43.8 57 -43.1 54 -42.6 52.5 -40.5 47.5 -39.6 45 -39.3 43.5 -38.4 36 -37.8 33 -36.6 28.5 -35.5 25.5 -34 22.5 -32.2 19.5 -13.5 -9.5 -10.5 -13.4 -9 -15.1 -7.5 -16.4Z"/>
<path fill="#c00000" d="M0 -66L3 -66.1 6 -65.9 9 -65.3 10.5 -64.7 12 -63.8 13.5 -62.6 14.5 -61.5 15.4 -60 16 -58.5 16.3 -57 16.3 -55.5 16.1 -54 15.8 -52.5 14.6 -49.5 13 -46.5 11.3 -43.5 10.2 -42 9 -40.5 7.3 -39 6 -38.1 4.5 -37.3 3 -36.8 1.5 -36.5 0 -36.3 -1.5 -36.4 -3 -36.8 -4.8 -37.5 -6 -38.3 -7.5 -39.7 -9 -41.8 -10.5 -45 -11.9 -49.5 -12.5 -52.5 -12.7 -55.5 -12.6 -57 -12.3 -58.5 -11.8 -60 -10.9 -61.5 -9.6 -63 -7.5 -64.4 -6 -65 -3 -65.7ZM-3.9 3L-1.5 2.5 1.5 2.3 4.5 2.7 9 3.9 13.5 5.8 18 8 24 11.4 28.5 14.3 31.5 16.5 33.3 18 36 20.8 37.2 22.5 38.1 24 39.4 27 40 30 40.4 33 40.5 36 40.3 40.5 39.4 51 38.6 55.5 37.6 58.5 36.2 61.5 31.4 69 30.1 72 28.5 76.5 27 79.5 25.5 81.6 24 83 22.6 84 21 84.9 18 86.3 15 87.4 10.5 88.6 6 89.4 3 89.7 0 89.8 -4.5 89.6 -9 88.9 -12 88.2 -16 87 -19.5 85.6 -22.5 84 -24.7 82.5 -27 80.3 -28.8 78 -30.7 75 -34.9 67.5 -36.4 64.5 -36.9 63 -37.3 61.5 -37.7 58.5 -37.7 57 -37.4 54 -36.7 51 -35.1 45 -34 39 -33.3 36 -31.8 31.5 -30 28 -28.5 25.8 -27 23.8 -23.2 19.5 -18 13.3 -15 10.1 -12 7.4 -9 5.3 -6 3.7Z"/>
<path fill="#a00000" d="M-2.5 12L0 11.5 3 11.4 6 11.7 10.5 12.8 13.5 14 18 16.2 22.5 18.9 25.5 21 28.5 23.6 30 25.2 31.4 27 32.3 28.5 33 30 34 33 34.6 36 34.9 39 35 42 34.8 49.5 34.5 52.5 33.8 55.5 32.6 58.5 31.9 60 31 61.5 26.9 67.5 24.4 73.5 23.6 75 22.5 76.9 21 78.8 19.5 80.2 18 81.3 15 82.9 12 84.1 9 84.9 6 85.5 1.5 86 -1.5 86.1 -4.5 85.8 -7.5 85.3 -10.5 84.6 -13.5 83.7 -16.5 82.4 -19 81 -21 79.5 -22.6 78 -23.9 76.5 -25 75 -26.7 72 -28.5 68.4 -31.5 63.6 -32.5 61.5 -33 60 -33.6 57 -33.6 55.5 -33.4 52.5 -32.9 49.5 -31.1 42 -30.2 39 -29.1 36 -27.5 33 -26.6 31.5 -24.3 28.5 -22.5 26.6 -15 19.5 -12 16.9 -10.5 15.8 -7.5 14 -4.5 12.6Z"/>
<path fill="#800000" d="M-4.2 19.5L-1.5 18.7 1.5 18.3 4.5 18.3 7.5 18.8 10.5 19.7 13.5 20.8 16.5 22.3 19.5 24.1 22.5 26.3 24 27.6 25.5 29.1 27.3 31.5 28.5 33.6 29.5 36 30.3 39 30.8 42 31.1 46.5 30.9 51 30.4 54 29.4 57 28 60 24.1 66 21 71.4 19.6 73.5 18 75.4 16.8 76.5 15 77.9 13.5 78.8 12 79.5 9 80.6 6 81.4 3 81.9 0 82 -3 82 -6 81.6 -9 80.9 -12 80 -13.5 79.3 -16 78 -18 76.6 -19.8 75 -21 73.7 -22.3 72 -28 63 -29.5 60 -30.3 57 -30.5 55.5 -30.5 54 -30.2 51 -29.6 48 -28.5 43.9 -27.9 42 -26.6 39 -25.5 36.9 -24 34.6 -22.5 32.7 -21 31.1 -18 28.3 -15 25.9 -12 23.7 -9 21.8 -6 20.2Z"/>
<path fill="#600000" d="M-4.2 25.5L-1.5 24.7 1.5 24.3 3 24.3 6 24.6 9 25.2 12 26.2 15 27.6 16.5 28.4 18.8 30 21 31.8 22.5 33.4 24 35.4 25.2 37.5 26.4 40.5 27 42.7 27.4 45 27.6 48 27.5 51 27.4 52.5 26.7 55.5 26.1 57 24.7 60 22.5 63.5 19.5 67.8 18 69.7 16.5 71.3 15 72.7 13.5 73.8 12 74.7 10.5 75.5 7.5 76.6 6 77 3 77.6 0 77.8 -3 77.8 -7.5 77.1 -10.5 76.3 -12 75.7 -15 74.1 -16.5 73 -18 71.7 -19.2 70.5 -21 68.5 -24.9 63 -26.5 60 -27.4 57 -27.7 55.5 -27.7 54 -27.5 51 -27 48.5 -26.4 46.5 -25.5 43.9 -24.6 42 -22.9 39 -21.8 37.5 -19.1 34.5 -16.5 32.2 -15 31.1 -12 29.2 -9 27.5 -6 26.1Z"/>
<path fill="#400000" d="M2.4 30L4.5 30.1 7.5 30.5 10.5 31.3 12 31.8 14.4 33 16.5 34.3 18 35.5 20 37.5 21.2 39 22.5 41.4 23.3 43.5 24 46.1 24.3 48 24.3 51 24 54 23.6 55.5 22.5 58.4 21.6 60 19.6 63 18 65 15 68 13.5 69.1 10.5 70.9 9 71.6 6 72.6 1.5 73.3 -1.5 73.5 -4.5 73.4 -7.5 73 -9 72.6 -12 71.5 -13.5 70.8 -16.5 68.8 -19.5 65.9 -21 64.2 -22.5 62.1 -23.7 60 -24.4 58.5 -24.8 57 -25.1 55.5 -25.1 52.5 -24.5 49.5 -24 47.8 -22.9 45 -21 41.8 -19.5 39.9 -18 38.3 -15 35.9 -13.5 34.9 -10.5 33.2 -6 31.4 -1.5 30.3Z"/>
<path fill="#200000" d="M-4.1 36L0 35.5 4.5 35.5 7.5 35.9 10.5 36.7 13.5 38.1 15 39 16.5 40.3 18.1 42 19.5 44.4 20.3 46.5 20.7 48 21.1 51 20.9 54 20.6 55.5 20.1 57 19.4 58.5 18.4 60 16.5 62.3 15 63.7 13.5 64.8 10.5 66.6 9 67.3 6 68.2 1.5 68.9 -4.5 69.2 -7.5 68.9 -9 68.6 -12 67.6 -13.5 66.8 -16.5 64.8 -18 63.5 -19.5 61.9 -20.9 60 -21.7 58.5 -22.2 57 -22.5 55.5 -22.5 53.9 -22.1 51 -21 48 -20.3 46.5 -19.4 45 -18.3 43.5 -16.5 41.6 -15 40.4 -12 38.5 -10.5 37.8 -7.5 36.8Z"/>
<path fill="#dfdfff" d="M-123 -123L123 -123 123 -16.6 120.3 -21 118.3 -24 115 -28.5 112.6 -31.5 108.6 -36 103.5 -40.6 100.6 -43.5 98.1 -46.5 91.5 -55.4 86.2 -61.5 81.8 -66 76.5 -70.7 69.1 -76.5 62.7 -81 57 -84.5 46.5 -90.4 43.5 -92.4 39 -95.8 36 -97.7 31.5 -100 27 -101.6 24 -102.4 19.5 -103.1 15 -103.5 10.5 -103.8 4.5 -103.9 0 -103.8 -4.5 -103.5 -9 -103 -15 -102.1 -21 -100.6 -27 -98.6 -33 -96.3 -36 -94.8 -39 -92.9 -42.8 -90 -46 -87 -47.3 -85.5 -49.8 -82.5 -52.7 -78 -57.8 -69 -64.5 -56.3 -73.6 -40.5 -75.6 -37.5 -77.9 -34.5 -83.2 -28.5 -84.5 -27 -86.4 -24 -90.9 -16.5 -93.9 -12 -96.5 -9 -99.6 -6 -103.5 -3 -111 2.3 -113.8 4.5 -115.4 6 -117 7.6 -119.4 10.5 -123 15.4ZM122.7 58.5L123 58 123 123 39.4 123 46.5 120.5 55.5 117.1 61.5 114.6 67.5 111.8 72 109.4 77 106.5 81.5 103.5 87 99.5 93.1 94.5 98.2 90 103.5 84.8 108.4 79.5 112.5 74.5 116.5 69 119.4 64.5ZM-123 85.5L-123 84.2 -120 88.4 -117.5 91.5 -114.8 94.5 -111.9 97.5 -108.7 100.5 -105.2 103.5 -101.4 106.5 -97.5 109.2 -94.5 111.2 -90 113.8 -83.7 117 -76.5 120 -72 121.6 -67.4 123 -123 123Z"/>
<path fill="#bfbfff" d="M-123 -123L123 -123 123 -24.5 119.9 -28.5 115.9 -33 111.3 -37.5 106.1 -42 103.3 -45 100.9 -48 96 -54.9 93.2 -58.5 90 -62.4 86.6 -66 81.9 -70.5 76.5 -75 70.5 -79.5 63.9 -84 58.8 -87 48 -93 40.5 -98 37.5 -99.9 33 -102.1 28.5 -103.7 25.5 -104.5 22.5 -105.1 19.5 -105.6 15 -106 10.5 -106.2 4.5 -106.2 -1.5 -106.1 -6 -105.7 -12 -105 -18 -103.9 -24 -102.3 -31.5 -99.7 -36 -97.7 -39.2 -96 -43.7 -93 -47.3 -90 -48.9 -88.5 -51.7 -85.5 -55.3 -81 -67.5 -63.2 -74.5 -54 -79.5 -46.9 -82 -43.5 -85.5 -39.3 -92.4 -31.5 -99 -23.5 -102.6 -19.5 -106.5 -15.7 -111 -12 -118.9 -6 -123 -2.5ZM123 72L123 123 54.4 123 60 120.9 65.7 118.5 70.5 116.3 75 114 79.5 111.5 82.9 109.5 87.5 106.5 91.7 103.5 96 100.2 101.1 96 105 92.5 109.2 88.5 112.5 85.1 116.1 81 119.7 76.5ZM-123 102L-119.6 105 -115.9 108 -111.8 111 -107.3 114 -103.5 116.3 -99 118.7 -94.5 121 -89.9 123 -123 123Z"/>
<path fill="#9f9fff" d="M-123 -123L123 -123 123 -30.6 120.8 -33 117.6 -36 114.2 -39 109.5 -42.8 107.1 -45 104.7 -48 98.4 -57 95 -61.5 91.2 -66 87 -70.4 81.9 -75 76.5 -79.3 70.5 -83.5 65.1 -87 60 -89.9 51 -94.9 41.9 -100.5 39 -102.1 34.5 -104.3 30 -105.9 27 -106.8 24 -107.4 21 -107.8 16.5 -108.3 12 -108.5 6 -108.6 -4.5 -108.2 -12 -107.4 -18 -106.4 -24 -104.9 -30 -103 -36 -100.7 -40.5 -98.5 -44.7 -96 -48.7 -93 -51 -91.1 -53.8 -88.5 -58 -84 -69 -70.5 -79.3 -58.5 -88.5 -47.2 -96 -38.9 -103.5 -31.3 -109.5 -25.6 -114 -21.7 -123 -14.6ZM122.9 84L123 83.8 123 123 69.5 123 76.5 119.8 84.6 115.5 91.5 111.3 98.4 106.5 105 101.4 111.3 96 117.5 90ZM-123 117L-123 116.5 -117.4 120 -112 123 -123 123Z"/>
<path fill="#8080ff" d="M-123 -123L123 -123 123 -35.8 118.5 -39.7 111.7 -45 109.5 -47.1 107.6 -49.5 101.4 -58.5 97.5 -63.7 93 -69 88.6 -73.5 84 -77.7 79.5 -81.3 73.5 -85.5 67.5 -89.3 63 -91.9 52.5 -97.7 42 -103.8 39 -105.3 36.3 -106.5 31.5 -108.2 28.5 -109 25.5 -109.7 22.5 -110.2 18 -110.6 13.5 -110.9 9 -110.9 -1.5 -110.7 -9 -110.2 -15 -109.5 -21 -108.3 -28.5 -106.4 -34.5 -104.3 -40.5 -101.8 -45.7 -99 -50.3 -96 -56 -91.5 -59.2 -88.5 -63.8 -84 -82.3 -64.5 -96.9 -48 -102.6 -42 -106.5 -38.4 -112.5 -33.3 -123 -25.2ZM121.7 96L123 94.6 123 123 83.8 123 89.5 120 94.5 117.1 99.3 114 103.7 111 108 107.8 113.4 103.5 117 100.4Z"/>
<path fill="#6060ff" d="M-123 -123L123 -123 123 -40.6 115.5 -46.5 112.2 -49.5 109.5 -52.8 103.4 -61.5 100 -66 96 -70.8 91.5 -75.5 87 -79.6 82.5 -83.3 78 -86.6 72.8 -90 66 -94 46.2 -105 40.5 -107.8 36 -109.6 30 -111.4 27 -112 22.5 -112.8 19.5 -113.1 15 -113.3 7.5 -113.3 -4.5 -112.9 -10.5 -112.5 -18 -111.6 -24 -110.4 -31.5 -108.4 -37.5 -106.3 -43.5 -103.8 -49.6 -100.5 -54.2 -97.5 -58.3 -94.5 -62 -91.5 -67.2 -87 -77.1 -78 -84.9 -70.5 -92.1 -63 -103.5 -50.7 -108 -46.1 -109.5 -44.7 -112.5 -42.4 -123 -34.8ZM122.9 105L123 104.9 123 123 97.9 123 105 118.6 111 114.5 117 110Z"/>
<path fill="#4040ff" d="M-123 -123L123 -123 123 -45.5 118 -49.5 115.5 -51.8 114 -53.4 111 -57.2 105.6 -64.5 102.1 -69 98.2 -73.5 94.5 -77.4 90 -81.6 85.5 -85.3 81 -88.7 76.5 -91.7 67.5 -97.1 52.9 -105 46.5 -108.4 40.5 -111 34.5 -113 30.8 -114 27 -114.8 24 -115.2 19.5 -115.7 12 -115.9 6 -115.8 -10.5 -115 -16.5 -114.4 -22.5 -113.5 -30 -111.8 -37.5 -109.5 -41.6 -108 -45 -106.6 -51 -103.6 -56.4 -100.5 -63 -96 -71 -90 -80.3 -82.5 -85.5 -78 -91.9 -72 -106.5 -57.4 -111 -53.1 -115.5 -49.3 -123 -43.9ZM122.2 115.5L123 114.9 123 123 111.8 123 117 119.4Z"/>
<path fill="#2020ff" d="M-123 -123L123 -123 123 -50.7 119.2 -54 116.4 -57 114 -59.8 104.3 -72 100.5 -76.3 97.4 -79.5 93 -83.6 88.5 -87.4 84 -90.8 78 -94.8 69 -100.2 57.2 -106.5 48.3 -111 42 -113.6 39 -114.7 34.5 -116 28.5 -117.3 22.5 -118.1 15 -118.5 9 -118.4 -10.5 -117.7 -16.5 -117.2 -22.5 -116.3 -30 -114.8 -37.5 -112.8 -45 -110.2 -51 -107.5 -57 -104.5 -64.5 -100 -72.8 -94.5 -83.2 -87 -88.9 -82.5 -94.2 -78 -114 -60.2 -118.5 -56.5 -123 -53.1Z"/>
<path fill="#0000ff" d="M-123 -123L123 -123 123 -56.4 120 -59.4 117 -62.7 109.3 -72 105.3 -76.5 102.5 -79.5 99 -83 94.5 -87.1 89 -91.5 84 -95.1 77.9 -99 69 -104.1 58.5 -109.7 49.5 -113.9 43.5 -116.3 37.5 -118.2 33 -119.3 30 -119.9 24 -120.7 16.5 -121.2 10.5 -121.2 0 -120.7 -10.5 -120.4 -16.5 -120 -22.5 -119.2 -30 -117.9 -37.5 -116.1 -44.2 -114 -51 -111.4 -58.5 -108 -66 -104 -74.4 -99 -83.7 -93 -90.2 -88.5 -96.1 -84 -115.5 -68.2 -123 -62.4Z"/>
<path fill="#0000e0" d="M-123 -123L-121.5 -123 -14.6 -123 -21 -122.4 -27 -121.6 -33 -120.5 -39 -119.1 -45 -117.3 -51 -115.3 -57 -112.9 -63 -110.2 -69 -107.2 -75.9 -103.5 -83.7 -99 -90.9 -94.5 -95.4 -91.5 -101.8 -87 -123 -71.4ZM28.9 -123L123 -123 123 -62.7 118.5 -67.5 109.2 -78 105 -82.4 101.8 -85.5 97.5 -89.3 93 -93 88.5 -96.3 82.5 -100.4 76.5 -104 69 -108.1 60.5 -112.5 52.5 -116.2 46.5 -118.6 40.5 -120.5 34.5 -122Z"/>
<path fill="#0000c0" d="M-123 -123L-121.5 -123 -36.8 -123 -42 -121.8 -46.5 -120.6 -55.5 -117.6 -61 -115.5 -66 -113.4 -76.5 -108.4 -85.9 -103.5 -96.3 -97.5 -105.7 -91.5 -123 -79.9ZM43.1 -123L123 -123 123 -69.1 111.8 -81 107.3 -85.5 104.1 -88.5 97.1 -94.5 93 -97.6 88.5 -100.8 84 -103.7 78 -107.3 71.2 -111 64.5 -114.4 58.5 -117.2 52.5 -119.8 48 -121.4Z"/>
<path fill="#0000a0" d="M-123 -123L-121.5 -123 -51.3 -123 -58.5 -120.7 -67.5 -117.4 -75.5 -114 -85.1 -109.5 -93.9 -105 -102 -100.5 -109.7 -96 -123 -87.9ZM53.4 -123L123 -123 123 -75.5 113.1 -85.5 106.7 -91.5 99.4 -97.5 95.4 -100.5 91.5 -103.3 87 -106.2 82.5 -108.9 73.3 -114 63 -119 58.5 -121Z"/>
<path fill="#000080" d="M-123 -123L-121.5 -123 -64.4 -123 -70.5 -120.8 -78 -117.9 -84 -115.4 -91.5 -112 -99 -108.4 -105.6 -105 -123 -95.5ZM62.7 -123L123 -123 123 -81.8 116 -88.5 109.3 -94.5 102 -100.4 95.7 -105 88.5 -109.7 79.5 -114.9 70.5 -119.5Z"/>
<path fill="#000060" d="M-123 -123L-121.5 -123 -77.7 -123 -89.3 -118.5 -99.7 -114 -109.3 -109.5 -123 -102.7ZM71.6 -123L123 -123 123 -87.9 115.7 -94.5 110.3 -99 104.6 -103.5 98.3 -108 91.5 -112.4 85.5 -115.9 78 -119.9Z"/>
<path fill="#000040" d="M-123 -123L-121.5 -123 -91.7 -123 -99.3 -120 -106.5 -117 -123 -109.6ZM80.3 -123L123 -123 123 -93.9 117 -99 112.5 -102.6 107.4 -106.5 102 -110.3 96.3 -114 91.5 -116.9 86.1 -120Z"/>
<path fill="#000020" d="M-123 -123L-121.5 -123 -106.6 -123 -123 -116.4ZM88.8 -123L123 -123 123 -99.8 114.5 -106.5 106.1 -112.5 97.5 -118Z"/>
</g>
<path class="ol" d="M-11.9 -117.2C-9.6 -128.2 -5.2 -136.5 0 -136.5C5.2 -136.5 9.6 -128.2 11.9 -117.2"/>
<circle class="ol" r="117.8"/>
<circle class="el" cx="-27.1" cy="-84.5" r="2.8"/>
<circle class="el" cx="27.1" cy="-84.5" r="2.8"/>
<circle class="el" cx="-51.7" cy="-72.0" r="2.8"/>
<circle class="el" cx="-27.1" cy="-67.5" r="2.8"/>
<circle class="el" cx="0" cy="-66.0" r="2.8"/>
<circle class="el" cx="27.1" cy="-67.5" r="2.8"/>
<circle class="el" cx="51.7" cy="-72.0" r="2.8"/>
<circle class="el" cx="-71.6" cy="-52.0" r="2.8"/>
<circle class="el" cx="-54.7" cy="-48.0" r="2.8"/>
<circle class="el" cx="-37.1" cy="-46.0" r="2.8"/>
<circle class="el" cx="-18.0" cy="-45.0" r="2.8"/>
<circle class="el" cx="0" cy="-44.5" r="2.8"/>
<circle class="el" cx="18.0" cy="-45.0" r="2.8"/>
<circle class="el" cx="37.1" cy="-46.0" r="2.8"/>
<circle class="el" cx="54.7" cy="-48.0" r="2.8"/>
<circle class="el" cx="71.6" cy="-52.0" r="2.8"/>
<circle class="el" cx="-105.4" cy="-34.7" r="2.8"/>
<circle class="el" cx="-84.1" cy="-27.5" r="2.8"/>
<circle class="el" cx="-63.2" cy="-24.5" r="2.8"/>
<circle class="el" cx="-42.2" cy="-23.2" r="2.8"/>
<circle class="el" cx="-21.1" cy="-22.4" r="2.8"/>
<circle class="el" cx="0" cy="-22.4" r="2.8"/>
<circle class="el" cx="21.1" cy="-22.4" r="2.8"/>
<circle class="el" cx="42.2" cy="-23.2" r="2.8"/>
<circle class="el" cx="63.2" cy="-24.5" r="2.8"/>
<circle class="el" cx="84.1" cy="-27.5" r="2.8"/>
<circle class="el" cx="105.4" cy="-34.7" r="2.8"/>
<circle class="el" cx="-88.2" cy="0" r="2.8"/>
<circle class="el" cx="-66.5" cy="0" r="2.8"/>
<circle class="el" cx="-44.1" cy="0" r="2.8"/>
<circle class="el" cx="-22.3" cy="0" r="2.8"/>
<circle class="el" cx="0" cy="0" r="2.8"/>
<circle class="el" cx="22.3" cy="0" r="2.8"/>
<circle class="el" cx="44.1" cy="0" r="2.8"/>
<circle class="el" cx="66.5" cy="0" r="2.8"/>
<circle class="el" cx="88.2" cy="0" r="2.8"/>
<circle class="el" cx="-84.1" cy="27.0" r="2.8"/>
<circle class="el" cx="-63.2" cy="24.2" r="2.8"/>
<circle class="el" cx="-42.2" cy="23.0" r="2.8"/>
<circle class="el" cx="-21.1" cy="21.8" r="2.8"/>
<circle class="el" cx="0" cy="21.5" r="2.8"/>
<circle class="el" cx="21.1" cy="21.8" r="2.8"/>
<circle class="el" cx="42.2" cy="23.0" r="2.8"/>
<circle class="el" cx="63.2" cy="24.2" r="2.8"/>
<circle class="el" cx="84.1" cy="27.0" r="2.8"/>
<circle class="el" cx="-71.6" cy="51.8" r="2.8"/>
<circle class="el" cx="-54.7" cy="47.4" r="2.8"/>
<circle class="el" cx="-37.1" cy="45.6" r="2.8"/>
<circle class="el" cx="-18.0" cy="44.2" r="2.8"/>
<circle class="el" cx="0" cy="43.5" r="2.8"/>
<circle class="el" cx="18.0" cy="44.2" r="2.8"/>
<circle class="el" cx="37.1" cy="45.6" r="2.8"/>
<circle class="el" cx="54.7" cy="47.4" r="2.8"/>
<circle class="el" cx="71.6" cy="51.8" r="2.8"/>
<circle class="el" cx="-51.7" cy="71.2" r="2.8"/>
<circle class="el" cx="-27.1" cy="67.0" r="2.8"/>
<circle class="el" cx="0" cy="65.5" r="2.8"/>
<circle class="el" cx="27.1" cy="67.0" r="2.8"/>
<circle class="el" cx="51.7" cy="71.2" r="2.8"/>
<circle class="el" cx="-27.1" cy="83.7" r="2.8"/>
<circle class="el" cx="0" cy="88.0" r="2.8"/>
<circle class="el" cx="27.1" cy="83.7" r="2.8"/>
</g>
<g transform="translate(372.5 508.9)"><g clip-path="url(#hc)">
<rect x="-120" y="-120" width="240" height="240" fill="#fff"/>
<path fill="#ffdfdf" d="M-8.5 -96L-4.5 -96.6 -1.5 -96.9 1.5 -97 4.5 -96.9 9 -96.5 13.5 -96 19.5 -94.9 24 -94 27.8 -93 31.5 -91.8 36 -90.2 39 -88.9 43.2 -87 46.5 -85.3 51 -82.7 54 -80.8 58.5 -77.6 63.4 -73.5 67.5 -69.6 72 -64.6 75 -60.7 77.5 -57 85.4 -43.5 88.5 -39 90 -37.2 91.5 -35.7 94.5 -33.2 98.9 -30 100.3 -28.5 101.2 -27 101.7 -25.5 102.1 -24 102.2 -22.5 102.3 -19.5 101.9 -15 99.3 1.5 97 19.5 95.9 25.5 94.2 31.5 93 34.9 91.2 39 88.9 43.5 86.4 48 82.8 54 78 61.5 73.9 67.5 70.6 72 67 76.5 64.4 79.5 60 84 56.6 87 52.5 90.3 48 93.5 43.5 96.5 37.5 100 33 102.4 28.5 104.6 24 106.4 19.5 108 15 109.2 10.5 110.1 6 110.8 1.5 111.2 -3 111.2 -7.5 111 -12 110.5 -16.5 109.9 -21 109 -27 107.6 -39 104.3 -51 100.6 -55.5 99 -58.5 97.7 -63 95.4 -66 93.7 -69 91.7 -72 89.5 -76.5 85.8 -87 76.6 -91.9 72 -94.8 69 -97.3 66 -99.7 63 -102 59.6 -104.4 55.5 -106.7 51 -108.5 46.5 -110.1 42 -111.3 37.5 -112.3 33 -112.9 28.5 -113.3 24 -113.3 18 -112.7 10.5 -111.3 1.5 -109.8 -6 -108.5 -10.5 -106.5 -15.7 -104.5 -19.5 -103.5 -21.1 -102 -23.1 -99.7 -25.5 -97.5 -27.2 -94.5 -29 -87 -32.9 -82.5 -35.8 -76.5 -40.5 -69 -46.9 -56.7 -58.5 -51 -64.2 -46.8 -69 -42 -75.5 -39 -79.3 -36 -82.6 -34.5 -84 -31.5 -86.5 -26.4 -90 -23.5 -91.5 -21 -92.6 -15.1 -94.5Z"/>
<path fill="#ffbfbf" d="M-5.9 -90L-1.5 -90.7 1.5 -90.9 4.5 -90.9 9 -90.7 13.5 -90.3 18 -89.6 22.5 -88.8 27 -87.6 30 -86.7 34.5 -84.9 37.5 -83.6 42 -81.4 45.4 -79.5 49.5 -77 55.5 -72.8 58.5 -70.5 61.5 -67.8 66 -63.4 70.2 -58.5 73.5 -53.9 76.1 -49.5 84 -35.1 85.5 -32.6 90.2 -25.5 91 -24 91.7 -22.5 92.7 -19.5 93 -18 93.3 -15 93.4 -12 93.2 -9 92.3 0 89.5 21 88.7 25.5 87.9 28.5 86.7 31.5 85.4 34.5 80.6 43.5 70.2 61.5 67.4 66 64.2 70.5 60.7 75 58 78 55 81 51.7 84 48 87 43.8 90 39.2 93 36 94.9 31.5 97.3 28.5 98.7 25.5 99.9 21 101.4 18 102.3 13.5 103.3 9 104 4.5 104.4 0 104.5 -4.5 104.4 -9 104 -13.5 103.5 -18 102.7 -24 101.5 -40.5 97.5 -49.5 95 -55.5 92.7 -58.5 91.3 -61.5 89.8 -64.5 88 -68.1 85.5 -71.9 82.5 -75.4 79.5 -82.1 73.5 -86.8 69 -90 65.6 -93 62 -95.6 58.5 -97.5 55.5 -99.2 52.5 -101.5 48 -103.3 43.5 -104.9 39 -106.1 34.5 -107.1 30 -107.7 25.5 -108.1 21 -108.1 15 -107.7 9 -106.7 1.5 -105.3 -4.5 -103.8 -9 -102 -13 -99.8 -16.5 -97.5 -19.2 -95.6 -21 -93 -22.8 -90 -24.5 -84 -27.6 -81 -29.7 -73.5 -35.7 -62.7 -45 -52.7 -54 -48.1 -58.5 -44.1 -63 -38.3 -70.5 -36 -73.2 -34.3 -75 -31.5 -77.4 -28.5 -79.5 -21 -84.2 -18 -85.9 -15 -87.3 -12 -88.4 -9 -89.3Z"/>
<path fill="#ff9f9f" d="M-4.1 -82.5L0 -83.3 3 -83.6 6 -83.7 10.5 -83.7 13.5 -83.5 18 -83 21 -82.5 25.5 -81.5 28.5 -80.5 33 -78.8 37.5 -76.7 40.5 -75.2 43.6 -73.5 48 -70.8 51 -68.7 54.6 -66 60 -61.3 64.5 -56.7 66.7 -54 68.9 -51 72 -45.9 74.8 -40.5 76.9 -36 78.8 -31.5 82.2 -22.5 83.5 -18 84.1 -15 84.4 -12 84.4 -9 84.3 -6 83.6 0 80.4 19.5 79.8 22.5 79 25.5 77.9 28.5 76.6 31.5 66.4 54 64.1 58.5 62.4 61.5 58.5 67.6 56.4 70.5 54 73.5 51.2 76.5 48.1 79.5 44.6 82.5 40.7 85.5 37.5 87.7 34.5 89.6 31.5 91.3 28.5 92.8 25.5 94 21 95.5 15 96.9 12 97.3 7.5 97.8 3 97.9 -1.5 97.8 -7.5 97.4 -12 96.9 -21 95.4 -40.5 91.3 -48 89.3 -51 88.4 -54 87.2 -57 85.8 -60 84.2 -64.5 81.3 -68.8 78 -72.3 75 -77.2 70.5 -81.8 66 -84.5 63 -87 60 -90 56 -92.3 52.5 -94.5 48.5 -96.2 45 -98 40.5 -99.6 36 -100.8 31.5 -101.8 27 -102.5 22.5 -102.9 18 -103 12 -102.7 7.5 -102.1 3 -101.1 -1.5 -99.6 -6 -98.1 -9 -96.1 -12 -94.5 -13.9 -93 -15.3 -90 -17.6 -81 -22.9 -76.5 -26 -47.6 -49.5 -44.3 -52.5 -41.4 -55.5 -37.8 -60 -32.3 -67.5 -30 -70 -28.5 -71.3 -27 -72.4 -24 -74.2 -19.5 -76.6 -15 -78.7 -12 -80 -9 -81.1Z"/>
<path fill="#ff8080" d="M1.6 -73.5L6 -74.2 9 -74.5 12 -74.6 15 -74.6 18 -74.4 21 -74 24 -73.4 27 -72.7 30 -71.7 33 -70.6 36.7 -69 40.5 -67.1 46.5 -63.7 49.5 -61.7 52.5 -59.5 57 -55.6 60 -52.5 61.5 -50.8 64.8 -46.5 66.7 -43.5 68.3 -40.5 71 -34.5 72.1 -31.5 73.5 -27 74.9 -21 75.3 -18 75.4 -15 75.3 -12 75 -9 74.5 -6 73.2 -1.5 70.7 6 69 10.5 64.4 21 63.3 24 62.8 27 62.1 36 61.5 40.5 60.7 45 59.9 48 58.8 51 56.9 55.5 54.6 60 51.9 64.5 49.9 67.5 47.6 70.5 44.9 73.5 42 76.4 38.6 79.5 36 81.6 33 83.8 30.3 85.5 27.4 87 25.5 87.8 22.5 88.9 19.5 89.7 16.5 90.4 13.5 90.9 7.5 91.4 3 91.4 -3 91.1 -10.5 90.4 -16.5 89.5 -28.5 87 -39 85.2 -43.5 84.3 -49.5 82.7 -53.9 81 -57 79.4 -61.5 76.5 -65.3 73.5 -68.7 70.5 -73.5 65.9 -77.8 61.5 -80.4 58.5 -82.7 55.5 -84.8 52.5 -87 48.9 -89.1 45 -91.2 40.5 -92.9 36 -94.4 31.5 -95.6 27 -96.5 22.5 -97.2 18 -97.5 13.5 -97.5 9 -97.3 6 -96.9 3 -96 -0.6 -95.1 -3 -93.5 -6 -91.5 -8.5 -89.5 -10.5 -87.6 -12 -85.5 -13.4 -78 -17.9 -75 -19.8 -71.3 -22.5 -63 -29 -57 -33.2 -51 -37.1 -40.7 -43.5 -36 -46.8 -33 -49.4 -31.5 -51 -29.2 -54 -25.6 -60 -24.5 -61.5 -23.2 -63 -21 -64.8 -19.1 -66 -16.2 -67.5 -10.5 -69.9 -4.5 -72Z"/>
<path fill="#ff6060" d="M20.8 -61.5L24 -61.5 28.5 -61 33 -60.1 36 -59.3 40.5 -57.5 43.5 -56.1 48 -53.4 51 -51.3 54 -48.7 57 -45.6 59.8 -42 61.5 -39.4 63.3 -36 64.7 -33 66 -29.2 66.9 -25.5 67.3 -22.5 67.3 -19.5 66.9 -15 66.2 -12 65.7 -10.5 64.5 -7.6 63.7 -6 62 -3 60 0.1 57 4.2 52.5 9.3 45.3 16.5 44.1 18 43.1 19.5 42.5 21 42.2 22.5 42.1 24 42.2 25.5 42.5 27 43.4 30 45.4 36 46.5 39.8 47.2 43.5 47.3 46.5 47 49.5 45.9 54 44.3 58.5 42.1 63 39.3 67.5 35.7 72 32.8 75 31.1 76.5 28.5 78.6 27 79.6 24.6 81 21 82.5 16.5 83.8 12 84.6 7.5 84.9 1.5 84.9 -4.5 84.5 -10.5 83.8 -15 82.9 -27 80.1 -31.5 79.4 -40.5 78.1 -45 77.2 -49.5 76 -52.2 75 -54 74.1 -57.1 72 -60.6 69 -70.5 59.2 -74 55.5 -76.5 52.3 -79.3 48 -81.8 43.5 -84 39 -86.4 33 -88.4 27 -89.9 21 -90.9 15 -91.2 12 -91.3 9 -91 4.5 -90.4 1.5 -89.8 0 -89 -1.5 -87 -3.9 -85.5 -5.2 -84 -6.3 -81 -8.2 -75 -11.5 -70.5 -14.1 -67.5 -16.2 -61 -21 -55.5 -24.5 -51 -26.9 -46.5 -28.8 -43.5 -29.7 -42 -30.1 -39 -30.4 -36 -30.4 -34.5 -30.1 -31.5 -29.4 -29.5 -28.5 -27 -27.1 -25.5 -26.1 -19.5 -21.2 -10.5 -14.7 -6 -11.7 -1.5 -9.3 3 -7.4 4.5 -7 6 -6.7 7.5 -6.9 8.4 -7.5 9 -8.1 10 -10.5 10.4 -12 10.6 -13.5 10.7 -16.5 10.5 -19 10.1 -21 8.9 -24 7.1 -27 5.9 -28.5 4.5 -30 -1.5 -35.5 -3 -37.3 -4 -39 -4.7 -40.5 -5.1 -42 -5.3 -43.5 -5.4 -45 -5.3 -46.5 -5.1 -48 -4.5 -49.8 -3.9 -51 -3 -52.5 -1.6 -54 0 -55.4 2.7 -57 6 -58.5 10.7 -60 13.5 -60.6 16.5 -61.1ZM15 7.3L14.2 9 14.1 10.5 14.3 12 14.7 13.5 15.3 15 16.1 16.5 17.1 18 18.3 19.5 19.5 20.6 21 21.7 22.5 22.2 24 22.4 25.5 22.3 27 22 29.4 21 30 20.4 30.6 19.5 30.8 18 30.2 16.5 29.2 15 27.8 13.5 26.2 12 22.5 9.3 19.5 7.7 18 7.1 16.5 6.9Z"/>
<path fill="#ff4040" d="M32.7 -45L34.5 -45.6 36 -45.9 37.5 -46 39 -45.9 42 -45.2 45 -43.9 46.5 -43.1 49.5 -41 51 -39.7 53 -37.5 54.2 -36 55.5 -34 56.8 -31.5 57.4 -30 58 -28.5 58.5 -26.3 58.8 -24 58.8 -22.5 58.5 -19.5 58.1 -18 57 -15 55.2 -12 54 -10.4 52.5 -8.9 51 -7.7 49.5 -6.7 48 -5.9 46.5 -5.4 45 -5 43.5 -4.8 42 -4.8 40.5 -5 39 -5.4 37.6 -6 36 -6.9 34.5 -7.9 33.3 -9 31.5 -11.2 30.1 -13.5 28.8 -16.5 27.6 -21 26.5 -27 26.1 -31.5 26.2 -34.5 26.4 -36 27 -38.3 28 -40.5 28.5 -41.3 30.4 -43.5 31.5 -44.3ZM-49.3 -13.5L-46.5 -14.1 -45 -14.3 -43.5 -14.3 -42 -14.1 -40.5 -13.8 -37.5 -12.5 -36 -11.7 -33 -9.6 -30 -7.1 -27 -4.5 -19.1 3 -16.1 6 -12 10.6 -5.2 19.5 -2.5 22.5 -0.7 24 1.4 25.5 10.5 31.2 17.5 36 21.4 39 23.2 40.5 26.1 43.5 28.2 46.5 29.7 49.5 30.5 52.5 30.8 54 30.8 57 30.6 58.5 29.9 61.5 28.6 64.5 27 67.1 25.6 69 24.2 70.5 22.6 72 20.6 73.5 18.1 75 15 76.3 13.5 76.8 10.5 77.5 7.5 78 4.5 78.3 0 78.3 -4.5 77.9 -9 77.2 -13.5 76 -24 72.8 -27 72.1 -31.5 71.1 -40.5 69.7 -45 68.6 -48 67.5 -49.5 66.7 -51 65.6 -52.3 64.5 -55 61.5 -60.9 54 -66.9 48 -69 45.6 -72 41.4 -75 36.2 -76.5 33.1 -77.8 30 -79.5 25.2 -81 19.5 -81.6 15 -81.8 12 -81.7 10.5 -81.6 9 -81 6.8 -80.7 6 -79.5 4 -78.5 3 -76.6 1.5 -73.9 0 -67.5 -3 -64.5 -4.9 -58.5 -9 -55.5 -10.8 -52.5 -12.3Z"/>
<path fill="#ff2020" d="M42 -24L42 -24.1 43.5 -24.3 43.6 -24 43.5 -23.8 42 -23.9ZM-50.2 7.5L-48 7 -46.5 6.8 -43.5 7 -40.5 7.7 -37.5 9 -36 9.8 -31.5 12.7 -28.5 15 -25.5 17.6 -21.9 21 -16.5 26.9 -15 28.4 -12 30.8 -8.4 33 0 36.7 3 38.3 6 40.3 8.1 42 11 45 13.4 48 15 51 16.1 54 16.4 55.5 16.5 57 16.4 58.5 16.2 60 15.7 61.5 15 63 14 64.5 12.7 66 10.8 67.5 9 68.6 7.5 69.3 4.5 70.2 3 70.5 0 70.7 -2.8 70.5 -4.5 70.2 -8.6 69 -12 67.6 -21 63.2 -24 61.9 -27 60.8 -33 59 -36 57.9 -39 56.4 -40.5 55.4 -42 54 -43.3 52.5 -44.4 51 -48 44.8 -49.8 42 -52.5 38.8 -58.1 33 -60.4 30 -62.2 27 -62.8 25.5 -63.2 24 -63.5 22.5 -63.5 21 -63.3 19.5 -62.9 18 -62.3 16.5 -61.3 15 -60 13.5 -58.5 12.1 -56.4 10.5 -53.9 9 -52.5 8.3Z"/>
<path fill="#dfdfff" d="M-123 -123L123 -123 123 123 12.1 123 18 121.4 24 119.2 30 116.5 34.5 114.1 51 104.3 57 100.5 63 96.1 68.4 91.5 71.5 88.5 74.3 85.5 82.2 76.5 88.2 69 93.6 61.5 97.5 55.2 101.4 48 103.4 43.5 104.6 40.5 106.7 34.5 107.9 30 109.1 24 110 18 111.8 1.5 112.6 -3 114.6 -12 115.4 -16.5 115.7 -19.5 115.8 -22.5 115.5 -25.5 114.9 -28.5 113.8 -31.5 113 -33 112 -34.5 110.7 -36 109 -37.5 106.6 -39 102 -41.1 100.3 -42 98.4 -43.5 96 -46.1 94.5 -48.1 92.6 -51 86.5 -61.5 82.5 -67.8 80.5 -70.5 78 -73.7 75.6 -76.5 72.7 -79.5 67.7 -84 63 -87.6 57 -91.4 51.2 -94.5 45 -97.3 37.5 -100.1 31.2 -102 24 -103.7 18 -104.7 10.5 -105.7 3 -106.4 -1.5 -106.4 -13.5 -105.3 -24 -103.8 -28.5 -102.9 -31.5 -102.1 -35.6 -100.5 -37.8 -99 -39.4 -97.5 -42.2 -94.5 -47 -88.5 -54.8 -78 -58.5 -73.6 -73.2 -58.5 -77.8 -54 -82.8 -49.5 -88.5 -45 -91.5 -42.9 -94.5 -41 -103.4 -36 -105 -35 -106.5 -33.7 -108.5 -31.5 -111 -28 -113.3 -24 -115.4 -19.5 -117.1 -15 -118 -12 -119.1 -7.5 -122.2 7.5 -123 12.2ZM-123 39L-123 38.6 -122 43.5 -120.8 48 -119.2 52.5 -118 55.5 -115.9 60 -114.3 63 -112.5 66 -110.6 69 -108.3 72 -105.9 75 -103.2 78 -100.5 80.8 -94.5 86.4 -83.4 96 -77.6 100.5 -72 104.3 -66 107.8 -60 110.6 -52.5 113.6 -37.5 118.8 -30 121.1 -22 123 -123 123Z"/>
<path fill="#bfbfff" d="M-123 -123L123 -123 123 123 30.9 123 36 120.3 40.5 117.6 57 107.6 63 103.5 67.5 100.1 72.3 96 76.9 91.5 81.1 87 89.1 78 94 72 99 65.2 103.2 58.5 105 55.3 107.2 51 110.4 43.5 112 39 112.9 36 114.5 30 115.3 25.5 116.2 19.5 117.5 4.5 118 0 120.4 -10.5 121 -13.5 121.3 -16.5 121.5 -21 121.3 -24 120.8 -27 119.9 -30 118.6 -33 117.7 -34.5 115.5 -37.4 114 -38.9 111 -41.2 105 -44.9 103.5 -46 102 -47.3 100 -49.5 96.9 -54 89.9 -66 86.1 -72 83.9 -75 81.5 -78 77.4 -82.5 72.5 -87 67.5 -90.9 62 -94.5 56.5 -97.5 49.5 -100.7 42.1 -103.5 34.5 -105.9 28.5 -107.3 22.5 -108.4 15 -109.3 6 -109.9 -1.5 -110.1 -12 -109.6 -21 -108.6 -27 -107.6 -30 -106.8 -33 -105.9 -36 -104.6 -39 -102.9 -42.2 -100.5 -45.4 -97.5 -51.1 -91.5 -58.5 -83 -63 -78 -70.5 -70.2 -81.4 -58.5 -87.5 -52.5 -90.9 -49.5 -94.7 -46.5 -98.8 -43.5 -106.5 -38.4 -109.5 -36 -111 -34.5 -112.4 -33 -114.7 -30 -116.7 -27 -118.4 -24 -119.8 -21 -121 -18 -123 -12ZM-123 61.5L-123 60.1 -120.1 66 -117.4 70.5 -114 75.5 -109.5 81 -105.4 85.5 -100.7 90 -94.5 95.6 -88.7 100.5 -84 104.2 -79.5 107.5 -75 110.5 -70.5 113.1 -66 115.5 -60 118.3 -54 120.7 -48 123 -123 123Z"/>
<path fill="#9f9fff" d="M-123 -123L123 -123 123 -35.4 121.7 -37.5 120.5 -39 118.5 -41.2 115.5 -43.8 109.5 -48.2 106.5 -50.9 105 -52.6 101.8 -57 94.6 -69 90.7 -75 87.4 -79.5 83.7 -84 79.5 -88.2 75 -92 69.5 -96 64.6 -99 61.5 -100.7 57 -102.9 49.5 -106 43.6 -108 39 -109.4 34.5 -110.6 30 -111.5 22.5 -112.7 18 -113.1 13.5 -113.4 6 -113.5 -7.5 -113.5 -12 -113.4 -18 -113 -24 -112.2 -28.5 -111.2 -33 -109.8 -36 -108.5 -39.7 -106.5 -44.1 -103.5 -48 -100.5 -51.6 -97.5 -56.5 -93 -72 -77.7 -77.3 -72 -87.7 -60 -91.9 -55.5 -94.9 -52.5 -101.5 -46.5 -105.3 -43.5 -111.4 -39 -114.8 -36 -116.2 -34.5 -118.7 -31.5 -120.8 -28.5 -123 -24.7ZM123 18L123 17.8 123 123 44.5 123 57 115.2 63 111.3 69 107 75 102.1 81 96.5 87.3 90 95.3 81 101.3 73.5 105.6 67.5 108 63.7 110.1 60 113.2 54 116.4 46.5 119 39 120.6 33 122 25.5ZM-123 75L-123 74.5 -120.7 78 -118.5 81.1 -115.5 84.9 -112.4 88.5 -106.5 94.6 -98.4 102 -90 108.9 -82.5 114.3 -75 119.1 -67.7 123 -123 123Z"/>
<path fill="#8080ff" d="M-123 -123L123 -123 123 -44.2 120 -47.1 113.8 -52.5 111 -55.3 109.5 -57.1 106.2 -61.5 98.6 -73.5 94.5 -79.5 91.1 -84 87.1 -88.5 82.4 -93 76.8 -97.5 72 -100.7 66 -104.2 63 -105.8 58.5 -107.8 54 -109.6 49.5 -111.2 43.5 -113 39 -114.2 34.5 -115.2 30 -116 22.5 -116.9 15 -117.3 9 -117.3 0 -116.9 -9 -117.2 -15 -117 -21 -116.5 -25.5 -115.8 -30 -114.7 -34.5 -113.1 -37.5 -111.7 -40.5 -110 -50.5 -103.5 -56.7 -99 -62.2 -94.5 -69.3 -88.5 -74.3 -84 -77.5 -81 -80.3 -78 -82.5 -75.4 -91.1 -64.5 -94.7 -60 -101.4 -52.5 -104.4 -49.5 -108 -46 -109.5 -44.8 -114 -41.6 -117.2 -39 -120.2 -36 -123 -32.7ZM122.8 49.5L123 49 123 123 58 123 64.5 118.7 70.5 114.5 75 111 79.5 107.3 83.7 103.5 88.3 99 93 94.2 98.2 88.5 102 84 106.5 78.4 110.1 73.5 113 69 115.7 64.5 118.1 60 120.3 55.5ZM-123 88.5L-123 87.4 -118.5 93 -114 97.9 -109.5 102.4 -103.5 108 -98.1 112.5 -93 116.5 -88.5 119.8 -83.7 123 -123 123Z"/>
<path fill="#6060ff" d="M-123 -123L123 -123 123 -52.6 117.2 -58.5 114 -62.3 110.1 -67.5 102.9 -78 99.7 -82.5 96 -87.2 91.5 -92.2 88.5 -95.1 85.8 -97.5 80 -102 76.5 -104.3 73.5 -106.2 67.4 -109.5 60 -112.8 55.5 -114.5 51 -116 45 -117.7 40.5 -118.8 36 -119.7 31.5 -120.4 25.5 -121 18 -121.4 12 -121.3 0 -120.7 -10.5 -121 -16.5 -120.8 -22.5 -120.2 -27 -119.4 -30 -118.6 -33 -117.6 -37.5 -115.7 -42 -113.3 -46.5 -110.4 -53.3 -106.5 -57 -104.2 -62.4 -100.5 -70.5 -94.5 -76.2 -90 -79.5 -87.2 -82.5 -84.4 -84.3 -82.5 -88.5 -77.3 -96.8 -66 -101.4 -60 -105.1 -55.5 -109.2 -51 -112.4 -48 -118.5 -43.3 -123 -39.2ZM122.6 67.5L123 66.7 123 123 71.5 123 79.5 116.9 86.5 111 93 104.9 100.5 97.2 106.8 90 112.8 82.5 118 75ZM-123 100.5L-123 100 -117.1 106.5 -110.9 112.5 -105 117.7 -98.4 123 -123 123Z"/>
<path fill="#4040ff" d="M-123 -123L-121.5 -123 -28.5 -123 -31.5 -122.2 -34.5 -121.2 -39 -119.3 -43.4 -117 -57 -109.4 -63 -105.8 -68.9 -102 -75.3 -97.5 -81 -93.1 -84 -90.5 -87 -87.6 -89 -85.5 -91.5 -82.5 -95 -78 -105.8 -63 -111 -56.6 -113.3 -54 -115.5 -51.9 -123 -45.4ZM43.9 -123L123 -123 123 -62.5 120 -66 117 -69.7 106.4 -84 101.5 -90 97.5 -94.5 94.4 -97.5 91.1 -100.5 87 -103.8 82.5 -107.1 78 -109.9 73.4 -112.5 67.5 -115.4 61.5 -117.9 55.5 -119.9 49.5 -121.7ZM122.6 82.5L123 81.8 123 123 84.8 123 90 118.6 95.1 114 100.5 108.8 105.6 103.5 111 97.5 114.7 93 118.5 88.2ZM-123 114L-123 112.8 -118.5 117.4 -112.5 123 -123 123Z"/>
<path fill="#2020ff" d="M-123 -123L-121.5 -123 -40.7 -123 -45 -120.9 -58.1 -114 -67.5 -108.7 -73.5 -105 -77.9 -102 -82 -99 -85.7 -96 -90.6 -91.5 -94.8 -87 -99.6 -81 -109.4 -67.5 -112.9 -63 -115.4 -60 -118.1 -57 -123 -52.2ZM63 -123L123 -123 123 -73.7 112.4 -87 107.3 -93 103.5 -97.1 100.5 -100.1 94.5 -105.4 91.2 -108 87 -111 84 -112.9 79.5 -115.6 76.5 -117.2 72 -119.4 67.5 -121.3ZM122 97.5L123 96.2 123 123 98.1 123 105 116.4 111 110.3 117 103.6Z"/>
<path fill="#0000ff" d="M-123 -123L-121.5 -123 -50.9 -123 -64.5 -116 -73.5 -111 -78.2 -108 -82.5 -105.1 -86.6 -102 -90.3 -99 -95.2 -94.5 -98 -91.5 -100.7 -88.5 -105.5 -82.5 -116.8 -67.5 -120 -63.6 -123 -60.3ZM77.7 -123L123 -123 123 -85.1 116.2 -93 111 -98.7 106.1 -103.5 101 -108 95.3 -112.5 90 -116.1 84 -119.7ZM122.7 111L123 110.6 123 123 111.5 123 117.3 117Z"/>
<path fill="#0000e0" d="M-123 -123L-63 -123 -61.9 -123 -72 -117.7 -80.8 -112.5 -85.3 -109.5 -88.5 -107.2 -91.5 -104.9 -95 -102 -99.8 -97.5 -105.4 -91.5 -110.4 -85.5 -123 -69.5ZM90.4 -123L123 -123 123 -96 115.5 -103.7 111 -108 107.5 -111 103.5 -114.2 99 -117.5 94.5 -120.5Z"/>
<path fill="#0000c0" d="M-123 -123L-121.5 -123 -73.2 -123 -81 -118.6 -88.2 -114 -94.4 -109.5 -99.8 -105 -105 -100.2 -110.4 -94.5 -115.5 -88.5 -123 -79.3ZM102.4 -123L123 -123 123 -106.3 117.9 -111 112.6 -115.5 108 -119Z"/>
<path fill="#0000a0" d="M-123 -123L-121.5 -123 -84.2 -123 -90 -119.4 -95.6 -115.5 -100.5 -111.7 -104.9 -108 -109.8 -103.5 -114 -99.2 -118.3 -94.5 -123 -89.1ZM114.1 -123L123 -123 123 -115.9 118.5 -119.6Z"/>
<path fill="#000080" d="M-123 -123L-121.5 -123 -94.7 -123 -102 -117.8 -106.5 -114.2 -109.5 -111.7 -116.7 -105 -123 -98.4Z"/>
<path fill="#000060" d="M-123 -123L-121.5 -123 -104.8 -123 -109.5 -119.4 -114.2 -115.5 -118.5 -111.7 -123 -107.4Z"/>
<path fill="#000040" d="M-123 -123L-121.5 -123 -114.7 -123 -123 -116Z"/>
</g>
<path class="ol" d="M-11.9 -117.2C-9.6 -128.2 -5.2 -136.5 0 -136.5C5.2 -136.5 9.6 -128.2 11.9 -117.2"/>
<circle class="ol" r="117.8"/>
<circle class="el" cx="-27.1" cy="-84.5" r="2.8"/>
<circle class="el" cx="27.1" cy="-84.5" r="2.8"/>
<circle class="el" cx="-51.7" cy="-72.0" r="2.8"/>
<circle class="el" cx="-27.1" cy="-67.5" r="2.8"/>
<circle class="el" cx="0" cy="-66.0" r="2.8"/>
<circle class="el" cx="27.1" cy="-67.5" r="2.8"/>
<circle class="el" cx="51.7" cy="-72.0" r="2.8"/>
<circle class="el" cx="-71.6" cy="-52.0" r="2.8"/>
<circle class="el" cx="-54.7" cy="-48.0" r="2.8"/>
<circle class="el" cx="-37.1" cy="-46.0" r="2.8"/>
<circle class="el" cx="-18.0" cy="-45.0" r="2.8"/>
<circle class="el" cx="0" cy="-44.5" r="2.8"/>
<circle class="el" cx="18.0" cy="-45.0" r="2.8"/>
<circle class="el" cx="37.1" cy="-46.0" r="2.8"/>
<circle class="el" cx="54.7" cy="-48.0" r="2.8"/>
<circle class="el" cx="71.6" cy="-52.0" r="2.8"/>
<circle class="el" cx="-105.4" cy="-34.7" r="2.8"/>
<circle class="el" cx="-84.1" cy="-27.5" r="2.8"/>
<circle class="el" cx="-63.2" cy="-24.5" r="2.8"/>
<circle class="el" cx="-42.2" cy="-23.2" r="2.8"/>
<circle class="el" cx="-21.1" cy="-22.4" r="2.8"/>
<circle class="el" cx="0" cy="-22.4" r="2.8"/>
<circle class="el" cx="21.1" cy="-22.4" r="2.8"/>
<circle class="el" cx="42.2" cy="-23.2" r="2.8"/>
<circle class="el" cx="63.2" cy="-24.5" r="2.8"/>
<circle class="el" cx="84.1" cy="-27.5" r="2.8"/>
<circle class="el" cx="105.4" cy="-34.7" r="2.8"/>
<circle class="el" cx="-88.2" cy="0" r="2.8"/>
<circle class="el" cx="-66.5" cy="0" r="2.8"/>
<circle class="el" cx="-44.1" cy="0" r="2.8"/>
<circle class="el" cx="-22.3" cy="0" r="2.8"/>
<circle class="el" cx="0" cy="0" r="2.8"/>
<circle class="el" cx="22.3" cy="0" r="2.8"/>
<circle class="el" cx="44.1" cy="0" r="2.8"/>
<circle class="el" cx="66.5" cy="0" r="2.8"/>
<circle class="el" cx="88.2" cy="0" r="2.8"/>
<circle class="el" cx="-84.1" cy="27.0" r="2.8"/>
<circle class="el" cx="-63.2" cy="24.2" r="2.8"/>
<circle class="el" cx="-42.2" cy="23.0" r="2.8"/>
<circle class="el" cx="-21.1" cy="21.8" r="2.8"/>
<circle class="el" cx="0" cy="21.5" r="2.8"/>
<circle class="el" cx="21.1" cy="21.8" r="2.8"/>
<circle class="el" cx="42.2" cy="23.0" r="2.8"/>
<circle class="el" cx="63.2" cy="24.2" r="2.8"/>
<circle class="el" cx="84.1" cy="27.0" r="2.8"/>
<circle class="el" cx="-71.6" cy="51.8" r="2.8"/>
<circle class="el" cx="-54.7" cy="47.4" r="2.8"/>
<circle class="el" cx="-37.1" cy="45.6" r="2.8"/>
<circle class="el" cx="-18.0" cy="44.2" r="2.8"/>
<circle class="el" cx="0" cy="43.5" r="2.8"/>
<circle class="el" cx="18.0" cy="44.2" r="2.8"/>
<circle class="el" cx="37.1" cy="45.6" r="2.8"/>
<circle class="el" cx="54.7" cy="47.4" r="2.8"/>
<circle class="el" cx="71.6" cy="51.8" r="2.8"/>
<circle class="el" cx="-51.7" cy="71.2" r="2.8"/>
<circle class="el" cx="-27.1" cy="67.0" r="2.8"/>
<circle class="el" cx="0" cy="65.5" r="2.8"/>
<circle class="el" cx="27.1" cy="67.0" r="2.8"/>
<circle class="el" cx="51.7" cy="71.2" r="2.8"/>
<circle class="el" cx="-27.1" cy="83.7" r="2.8"/>
<circle class="el" cx="0" cy="88.0" r="2.8"/>
<circle class="el" cx="27.1" cy="83.7" r="2.8"/>
</g>
<g transform="translate(740.8 510.8)"><g clip-path="url(#hc)">
<rect x="-120" y="-120" width="240" height="240" fill="#fff"/>
<path fill="#ffdfdf" d="M-100.7 -19.5L-99 -19.8 -97.5 -19.9 -96 -19.8 -94.5 -19.6 -91.5 -18.8 -85.9 -16.5 -84 -16.1 -82.5 -16.1 -76.5 -16.6 -73.5 -16.6 -70.5 -16.2 -69 -15.9 -63 -14.1 -61.5 -14 -55.5 -13.9 -54 -13.7 -51 -13.2 -45 -11.1 -40.5 -9.8 -37.5 -8.6 -36 -7.8 -33 -5.9 -26.9 -1.5 -24 0.5 -21 2.1 -18 3.3 -15 4.3 -10.5 5.7 4.5 9.6 10.5 11.1 24 14.2 32.4 16.5 39 18.6 45.9 21 52.5 23.6 56.4 25.5 59 27 61 28.5 62.6 30 63.9 31.5 64.9 33 66.4 36 66.9 37.5 67.5 40.5 67.7 42 67.7 45 67.4 48 66.8 51 66 54 64.9 57 63.7 60 61.6 64.5 59.1 69 56.3 73.5 53.3 78 51.1 81 48.7 84 46 87 41.3 91.5 39 93.4 36 95.6 33 97.5 30 99.2 27 100.7 23.9 102 19.7 103.5 16.5 104.5 12 105.6 6 106.7 -30 112.3 -39 113.4 -43.5 113.7 -46.5 113.8 -51 113.6 -55.5 113.2 -60 112.5 -64.5 111.5 -69 110.1 -73.5 108.5 -78 106.5 -81 105 -87 101.5 -93 97.4 -99 92.5 -101.7 90 -105 86.8 -110.2 81 -114.8 75 -118.7 69 -120.5 66 -123 61.3 -123 -5.1 -120.9 -7.5 -117.8 -10.5 -115.5 -12.4 -112.5 -14.5 -111 -15.3 -108 -16.8 -103.5 -18.6Z"/>
<path fill="#ffbfbf" d="M-103 -13.5L-100.5 -14.2 -99 -14.5 -96 -14.7 -93 -14.6 -87 -13.4 -84 -13.1 -76.5 -13.2 -73.5 -13.2 -70.5 -12.8 -63 -11.2 -55.5 -10.5 -51 -9.7 -42 -7.3 -38.6 -6 -36 -4.6 -34.5 -3.7 -27.1 1.5 -24.6 3 -21.7 4.5 -18 6 -10.5 8.3 3 12.1 9 13.6 22.3 16.5 28.5 18.2 33 19.6 39 21.7 44.6 24 47.8 25.5 50.7 27 53.2 28.5 55.2 30 57 31.6 58.5 33.4 60.2 36 60.9 37.5 61.8 40.5 62 42 62.3 45 62.2 48 61.8 51 61.2 54 60.3 57 59.3 60 57.3 64.5 55.8 67.5 53.2 72 50.4 76.5 48.4 79.5 46.1 82.5 43.6 85.5 40.7 88.5 39.1 90 34.5 93.6 31.5 95.6 28.5 97.3 25.5 98.7 22.5 100 16.5 102 9 103.9 4.5 104.7 -1.5 105.6 -33 109.7 -39 110.3 -45 110.6 -48 110.5 -52.5 110.2 -57 109.5 -60 108.9 -63.6 108 -67.5 106.8 -72 105 -75 103.7 -78.2 102 -82.5 99.5 -85.5 97.5 -89.5 94.5 -93.2 91.5 -96.5 88.5 -100.5 84.6 -103.7 81 -106.5 77.6 -109.5 73.5 -111.5 70.5 -114.2 66 -116.6 61.5 -118.8 57 -120.8 52.5 -123 47 -123 3.5 -120.9 0 -118.6 -3 -115.8 -6 -114.1 -7.5 -112.1 -9 -109.5 -10.7 -106.5 -12.2Z"/>
<path fill="#ff9f9f" d="M-99.4 -10.5L-96 -11.1 -93 -11.3 -84 -10.7 -75 -10.6 -72 -10.4 -54 -7.6 -45 -5.6 -42 -4.7 -39 -3.4 -36 -1.7 -30 2.5 -26.9 4.5 -24 6.1 -19.5 8 -12 10.5 1.5 14.6 7.5 16.1 21 18.9 27 20.6 31.5 22.1 36 23.8 40 25.5 43.1 27 45.8 28.5 48.1 30 50.1 31.5 52.5 33.8 54.2 36 55 37.5 55.7 39 56.6 42 57 45 57.1 48 57 51 56.6 54 55.9 57 55 60 53.8 63 51.7 67.5 47.5 75 45.6 78 43.5 81 39.8 85.5 37.5 87.8 35.1 90 31 93 28.5 94.5 25.5 96.1 22.5 97.4 19.5 98.6 16.5 99.6 12 100.9 4.5 102.5 0 103.2 -6 103.9 -34.5 106.9 -40.5 107.3 -45 107.4 -48 107.3 -52.5 106.8 -57 106 -60 105.3 -64.5 104 -67.5 102.9 -70.5 101.6 -73.5 100.2 -78 97.6 -81 95.7 -84.6 93 -88.5 89.8 -93 85.7 -96.2 82.5 -99 79.3 -102.5 75 -104.6 72 -107.4 67.5 -109.9 63 -112.1 58.5 -114.8 52.5 -117.7 45 -119.8 39 -121.1 34.5 -122 30 -122.4 27 -122.7 22.5 -122.6 19.5 -122 15 -121.2 12 -120.2 9 -118.9 6 -117.3 3 -115.2 0 -112.5 -3 -110.9 -4.5 -108 -6.6 -105 -8.4 -102 -9.7Z"/>
<path fill="#ff8080" d="M-97.8 -7.5L-94.5 -8.3 -90 -8.6 -75 -8.3 -72 -8.2 -67.5 -7.6 -61.5 -6.6 -52.5 -4.9 -45 -3.3 -42 -2.2 -39 -0.6 -31.5 4.5 -27 7.3 -24 8.8 -19.5 10.6 -10.5 13.7 1.5 17.5 7.5 19 21 21.8 25.5 23.1 32.4 25.5 35.8 27 39 28.6 42 30.3 45 32.5 47.2 34.5 48.6 36 49.6 37.5 50.5 39 51.1 40.5 51.6 42 52.3 45 52.5 48 52.5 51 52.3 54 51.7 57 50.9 60 49.1 64.5 47.8 67.5 45.4 72 41.8 78 38.5 82.5 36 85.4 34.4 87 30.8 90 28.5 91.5 25.5 93.2 22.5 94.7 19.5 95.9 13.5 98 9.8 99 6 99.9 0 100.9 -9 101.9 -36 103.9 -40.5 104.1 -45 104.1 -48 104 -51.9 103.5 -55.5 102.9 -58.5 102.1 -63 100.8 -66 99.6 -69 98.3 -72 96.8 -75.8 94.5 -79.5 91.9 -83.7 88.5 -87 85.6 -90.2 82.5 -93 79.5 -96 75.9 -98.9 72 -100.9 69 -103.5 64.5 -105.1 61.5 -107.2 57 -109 52.5 -113.6 40.5 -115.1 36 -116 33 -116.9 28.5 -117.3 25.5 -117.5 22.5 -117.4 19.5 -117.1 16.5 -116.6 13.5 -115.7 10.5 -114.5 7.5 -112.9 4.5 -112 3 -109.6 0 -108 -1.6 -106.4 -3 -103.5 -5 -100.5 -6.5Z"/>
<path fill="#ff6060" d="M-91.7 -6L-88.5 -6.3 -85.5 -6.3 -73.5 -6.1 -69 -5.8 -66 -5.4 -63 -4.8 -45 -0.8 -42.9 0 -40.5 1.4 -34 6 -30 8.5 -27 10.1 -22.5 12.1 -4.5 18.5 1.5 20.5 7.5 22 19.5 24.4 24 25.7 27.9 27 31.5 28.5 34.7 30 37.5 31.6 39.6 33 42 34.9 44.5 37.5 45.5 39 46.5 40.7 47.6 43.5 48.2 46.5 48.4 49.5 48.3 52.5 47.9 55.5 47.2 58.5 46.3 61.5 45.1 64.5 43 69 40.6 73.5 37.9 78 34.7 82.5 31.9 85.5 30.2 87 28.5 88.3 25.9 90 24 91 21 92.5 18 93.7 11.6 96 7.5 97.1 4.5 97.8 -1.5 98.8 -10.5 99.6 -37.5 100.9 -43.5 100.9 -48 100.7 -52.5 100 -55.5 99.4 -58.5 98.6 -61.5 97.6 -64.5 96.4 -67.5 95 -70.5 93.4 -73.5 91.6 -76.5 89.5 -79.5 87 -82.9 84 -87 79.9 -90 76.5 -92.4 73.5 -94.6 70.5 -96.5 67.5 -99.8 61.5 -101.2 58.5 -103.1 54 -109.6 36 -111 31.5 -111.6 28.5 -112.1 25.5 -112.4 22.5 -112.4 19.5 -112.2 16.5 -111.7 13.5 -110.8 10.5 -109.5 7.5 -108.8 6 -106.8 3 -105.5 1.5 -104 0 -102 -1.7 -100 -3 -97.1 -4.5 -94.5 -5.4Z"/>
<path fill="#ff4040" d="M-92.9 -3L-90 -3.7 -87 -4.1 -72 -3.8 -67.5 -3.5 -64.2 -3 -55.5 -0.6 -46.9 1.5 -45 2.2 -43.3 3 -36 8 -31.9 10.5 -28.5 12.2 -24 14.1 -3 21.9 1.5 23.5 7.5 25.1 19.5 27.7 24 29 27 30.1 30 31.4 34.5 33.8 37.5 36 39.2 37.5 40.6 39 42 41.1 43.2 43.5 43.7 45 44.2 48 44.4 51 44.1 54 43.5 57 42.6 60 41.6 63 40.3 66 38.1 70.5 35.7 75 33.8 78 31.8 81 29.1 84 27 85.8 25.3 87 22.5 88.6 19.7 90 16.2 91.5 12.3 93 9 94.1 3 95.7 0 96.2 -3 96.6 -10.5 97.1 -25.5 97.3 -39 97.8 -43.5 97.7 -48 97.3 -51 96.9 -54 96.3 -57 95.5 -60 94.5 -63 93.3 -66 91.9 -70.5 89.3 -73.5 87.2 -76.5 84.8 -79.5 82 -83.5 78 -86.1 75 -88.4 72 -90.5 69 -92.4 66 -95.5 60 -98 54 -99.7 49.5 -103.8 37.5 -106 30 -106.7 27 -107.2 24 -107.4 21 -107.4 18 -107.1 15 -106.8 13.5 -105.9 10.5 -105.4 9 -103.8 6 -102.8 4.5 -101.6 3 -100.2 1.5 -98.4 0 -96.2 -1.5Z"/>
<path fill="#ff2020" d="M-87.8 -1.5L-85.5 -1.6 -78 -1.4 -69 -1.5 -66 -1.1 -63 -0.3 -55.5 2.3 -48.3 4.5 -46.5 5.2 -43.5 6.8 -37.8 10.5 -35.2 12 -32.2 13.5 -28.5 15.1 -13.5 20.6 -3 24.9 1.5 26.6 7.5 28.4 19.5 31.1 24 32.6 28.5 34.5 31 36 33 37.3 35 39 36.5 40.5 37.7 42 39 44.4 39.7 46.5 40 48 40.1 49.5 40 52.5 39.8 54 39.2 57 38.2 60 37.1 63 34.5 68.6 32 73.5 30.3 76.5 28.5 79.3 27.1 81 25.7 82.5 23.7 84 21 85.7 15.6 88.5 9 91.2 4.5 92.7 0 93.7 -4.5 94.2 -10.5 94.5 -25.5 94.3 -39 94.6 -43.5 94.5 -48 94.1 -51 93.5 -54 92.9 -57 92 -60 90.9 -65 88.5 -67.5 87 -69.8 85.5 -72 83.9 -75.4 81 -78.5 78 -81.2 75 -83.6 72 -85.7 69 -87.6 66 -89.2 63 -92 57 -94.7 49.5 -99.7 33 -100.9 28.5 -101.6 25.5 -102.1 22.5 -102.3 19.5 -102.2 16.5 -102.1 15 -101.5 12 -101 10.5 -99.7 7.5 -98.8 6 -97.7 4.5 -96.4 3 -94.7 1.5 -93 0.4 -91.5 -0.4 -90 -1Z"/>
<path fill="#ff0000" d="M-85.8 1.5L-69 1.3 -67.5 1.4 -66 1.7 -62.4 3 -57 5.3 -51.4 7.5 -48 8.9 -39 13.8 -36.4 15 -33 16.4 -19.6 21 -15.6 22.5 -10.5 24.6 0 29.3 4.5 31 9 32.3 18 34.4 21 35.4 22.6 36 25.5 37.3 28.2 39 30.2 40.5 31.8 42 33 43.5 34 45 34.7 46.5 35.1 48 35.3 49.5 35.2 52.5 35 54 34.3 57 32.6 61.5 27.6 72 26 75 25 76.5 23.9 78 22.5 79.5 20.9 81 18.8 82.5 16.5 84 11 87 7.5 88.6 3 90.3 0 91 -4.5 91.6 -12 91.7 -27 91.3 -39 91.5 -43.5 91.3 -46.5 91 -49.5 90.5 -52.5 89.9 -57 88.5 -60 87.2 -63 85.7 -67.5 83 -70.5 80.7 -73.5 78 -77.7 73.5 -81.1 69 -83 66 -84.6 63 -86 60 -87.3 57 -89.3 51 -91 45 -95.7 25.5 -96.5 21 -96.8 18 -96.8 16.5 -96.5 13.5 -96.2 12 -95.1 9 -94.3 7.5 -93.3 6 -91.5 4 -90 2.9 -88.5 2.1 -87 1.7Z"/>
<path fill="#e00000" d="M-82.6 6L-78 5.6 -72 5.4 -69 5.5 -67.5 5.8 -66 6.2 -63 7.5 -58.5 9.8 -55.5 11.1 -40.5 17.3 -36 18.8 -22.5 22.7 -15 25.5 -9 28.2 1.5 33.6 4.5 34.9 9 36.3 15 37.8 18 38.7 21 39.9 22.5 40.7 24.4 42 26.1 43.5 27.3 45 28.3 46.5 28.9 48 29.3 49.5 29.5 51 29.4 52.5 29 55.5 28.5 57.1 27.4 60 22.5 70.1 20.5 73.5 18.2 76.5 15 79.5 11 82.5 8.6 84 4.5 86.2 1.5 87.5 -1.5 88.3 -4.5 88.6 -12 88.9 -25.5 88.3 -39 88.4 -45 88 -48 87.6 -51 86.9 -55.5 85.5 -60 83.6 -64.4 81 -68.4 78 -71.7 75 -75 71.2 -77.7 67.5 -80.2 63 -82.2 58.5 -83.8 54 -85 49.5 -86.4 42 -88.1 28.5 -89.9 19.5 -90.1 16.5 -90.1 15 -89.9 13.5 -89.5 12 -88.9 10.5 -88 9 -87 7.9 -85.5 6.9 -84 6.3Z"/>
<path fill="#c00000" d="M-76.1 16.5L-75 15.8 -73.5 15.4 -72 15.4 -70.5 15.6 -69 16.1 -64.5 17.7 -61.5 18.1 -55.5 18.4 -51 18.9 -42 21 -31.5 23.1 -24 25 -18 27 -15 28.2 -11.2 30 -5.8 33 1.5 37.7 4.5 39.3 7.5 40.5 13.5 42.4 16.6 43.5 18 44.3 19 45 20.4 46.5 21.3 48 21.9 49.5 22.3 51 22.4 52.5 22.3 54 22 55.5 21.1 58.5 19.2 63 16.5 67.9 13.8 72 11.4 75 8.5 78 5 81 2.8 82.5 0 84 -3 84.9 -7.5 85.6 -13.5 85.8 -18 85.7 -27 85.2 -36 85.4 -42 85.2 -46.5 84.6 -51 83.6 -54 82.6 -57.8 81 -61.5 78.9 -65 76.5 -68.4 73.5 -71.1 70.5 -73.5 67.3 -76 63 -77.4 60 -79 55.5 -80.1 51 -80.8 46.5 -81.1 42 -80.9 37.5 -80.4 33 -78 20.1 -77.2 18 -76.5 16.9Z"/>
<path fill="#a00000" d="M-58.4 25.5L-55.5 24.6 -54 24.3 -51 24.1 -48 24.1 -36 25.5 -31.5 26.1 -25.5 27.4 -21 28.7 -18 29.8 -15 31.1 -12 32.6 -9 34.3 -4.4 37.5 1.5 42.3 8.3 46.5 10.3 48 11.8 49.5 12.8 51 13.4 52.5 13.6 54 13.6 55.5 13.4 57 13 58.5 11.9 61.5 10.2 64.5 5.4 72 3.3 75 2 76.5 0.5 78 -1.5 79.5 -4.5 81 -6 81.5 -9 82.2 -12 82.5 -16.5 82.7 -27 82.3 -37.5 82.4 -42 82.2 -45 81.7 -48 81.1 -51 80.3 -54 79.2 -57 77.7 -60 76 -63 73.8 -65.1 72 -66.6 70.5 -69.1 67.5 -71.1 64.5 -72 62.9 -73.4 60 -74.8 55.5 -75.8 51 -76.2 46.5 -76.1 43.5 -75.7 40.5 -75.3 39 -74.3 36 -73.5 34.5 -72.5 33 -71.1 31.5 -69.2 30 -67.5 29Z"/>
<path fill="#800000" d="M-52.6 28.5L-49.5 28.1 -46.5 28 -37.5 28.5 -30 29.4 -24 30.7 -21 31.6 -18 32.7 -13.5 34.8 -11.3 36 -9 37.5 -7.1 39 -4.5 41.3 -1.5 44.2 2.7 48 4 49.5 5.1 51 5.9 52.5 6.3 54 6.5 55.5 6.5 57 6.2 58.5 5.7 60 5 61.5 1.5 67.2 -1 72 -2.1 73.5 -3 74.6 -5.3 76.5 -7.5 77.7 -10.5 78.7 -13.5 79.3 -16.5 79.6 -19.5 79.7 -27 79.6 -34.5 79.6 -39 79.4 -42 79.1 -45 78.6 -48 77.9 -51 76.9 -54 75.6 -57 74 -59.9 72 -61.7 70.5 -64.7 67.5 -67 64.5 -68.8 61.5 -70 58.5 -70.9 55.5 -71.7 51 -71.9 48 -71.9 46.5 -71.5 43.5 -70.6 40.5 -69.9 39 -68.9 37.5 -67.7 36 -66 34.4 -63 32.4 -60 30.9 -55.5 29.2Z"/>
<path fill="#600000" d="M-45.9 31.5L-39 31.6 -31.5 32.2 -25.5 33.2 -21 34.4 -16.5 36.2 -14 37.5 -12 38.7 -9.5 40.5 -7.7 42 -4.6 45 -1.8 48 -0.6 49.5 0.4 51 1.2 52.5 1.7 54 1.9 55.5 1.9 57 1.6 58.5 1.2 60 0.5 61.5 -3.8 69 -4.8 70.5 -6 71.8 -8 73.5 -10.5 74.9 -13.5 75.9 -16.5 76.5 -19.5 76.8 -24 76.9 -33 76.8 -37.5 76.6 -40.5 76.3 -43.5 75.8 -46.5 75 -49.5 74 -52.5 72.7 -55.5 71 -58.3 69 -60 67.5 -61.5 66 -63.8 63 -65.6 60 -66.8 57 -67.6 54 -68 51 -68 49.5 -67.9 46.5 -67.1 43.5 -66 41.1 -64.5 39 -63 37.4 -61.5 36.2 -60 35.3 -57 33.7 -54 32.7 -52.5 32.3 -49.5 31.8Z"/>
<path fill="#400000" d="M-52.6 36L-49.5 35.3 -45 34.9 -39 34.9 -31.5 35.3 -27 35.9 -22.5 36.9 -18 38.6 -15 40.1 -12 42 -10.5 43.2 -7.5 45.9 -4.3 49.5 -3.2 51 -2.4 52.5 -1.8 54 -1.6 55.5 -1.5 57 -1.7 58.5 -2.1 60 -3.6 63 -5.5 66 -6.6 67.5 -7.5 68.5 -9 69.9 -10.5 70.9 -12.5 72 -15 72.9 -16.5 73.3 -19.5 73.7 -24 74 -30 74 -34.5 73.9 -39 73.4 -43.5 72.5 -46.5 71.6 -49.5 70.4 -52.2 69 -54.5 67.5 -57 65.5 -58.5 64.1 -60.6 61.5 -61.6 60 -63 57 -63.9 54 -64.4 51 -64.3 48 -64 46.5 -63.5 45 -63 43.8 -61.9 42 -60.6 40.5 -58.5 38.7 -57 37.8 -55.5 37Z"/>
<path fill="#200000" d="M-49.6 39L-46.5 38.6 -42 38.4 -34.5 38.5 -30 38.7 -25.5 39.4 -22.5 40.1 -19.5 41.1 -17.5 42 -15 43.4 -13.5 44.4 -10.5 46.9 -7.9 49.5 -6.7 51 -5.7 52.5 -5 54 -4.6 55.5 -4.5 57 -4.7 58.5 -5.1 60 -5.8 61.5 -7.5 63.9 -9 65.6 -10.5 66.9 -12 67.9 -13.5 68.7 -15 69.4 -16.5 69.9 -19.5 70.5 -22.5 70.9 -27 71 -31.5 71 -36 70.6 -39 70.2 -42 69.5 -45 68.5 -48 67.2 -50.2 66 -52.5 64.5 -54 63.3 -55.5 61.8 -57 60.1 -58.5 57.8 -59.6 55.5 -60.1 54 -60.6 51 -60.6 49.5 -60.4 48 -60 46.5 -59.3 45 -58.2 43.5 -56.7 42 -54.3 40.5 -52.5 39.8Z"/>
<path fill="#dfdfff" d="M-123 -123L123 -123 123 123 -123 123 -123 82.3 -120 85.9 -116.2 90 -113.1 93 -109.8 96 -106.3 99 -102.4 102 -95.7 106.5 -91.5 109 -87.7 111 -84 112.8 -79.5 114.6 -76.5 115.7 -72 117.1 -67.5 118.3 -63 119.1 -57 119.9 -52.5 120.2 -49.5 120.2 -43.5 120 -36 119.1 -25.5 117.3 -3 112.6 9 110.7 13.5 109.9 18 108.8 21 108 27 105.8 31.5 103.8 36 101.3 40.5 98.5 45 95.1 49.3 91.5 52.4 88.5 56.5 84 60.2 79.5 64.6 73.5 68.6 67.5 72.1 61.5 74.3 57 76.2 52.5 77.5 48 78.3 43.5 78.6 39 78.3 36 77.6 33 77 31.5 76.2 30 75 28.3 74 27 72.5 25.5 70.5 23.9 68.6 22.5 66 21 63 19.6 58.7 18 54 16.6 36.9 12 28.5 9.9 12 6 0 2.8 -10.5 0.2 -13.5 -0.8 -16.5 -1.9 -18.9 -3 -21 -4.2 -23.5 -6 -27.1 -9 -32 -13.5 -34.7 -16.5 -35.8 -18 -36.7 -19.5 -37.4 -21 -39 -25.1 -40.5 -28.5 -43.5 -34.2 -45 -36.4 -46.5 -38.2 -48 -39.3 -49.5 -40.1 -51 -40.6 -54 -40.9 -58.5 -40.7 -61.5 -40.2 -70.5 -38.5 -73.5 -38 -76.5 -37.7 -87 -37.1 -98.9 -36 -102 -35.6 -105 -34.8 -106.5 -34 -107.9 -33 -109.7 -31.5 -123 -19.4Z"/>
<path fill="#bfbfff" d="M-123 -123L123 -123 123 123 -41.8 123 -36 122.2 -30 121.1 -22.5 119.5 -3 115 1.5 114.1 12 112.6 16.5 111.6 21 110.5 27 108.4 33 105.7 36 104.1 39.6 102 46.2 97.5 50 94.5 54 90.9 57.9 87 61.9 82.5 65.5 78 69.9 72 73.9 66 76.6 61.5 78.9 57 80.8 52.5 82.3 48 83 45 83.7 40.5 83.8 37.5 83.6 34.5 83 31.5 82.5 30 81.8 28.5 80.9 27 79.5 25.3 78.2 24 76.5 22.6 73.5 20.5 70.5 18.7 67.5 17.3 64.5 16.1 60 14.6 55.5 13.4 30 7.4 15 4 9 2.5 0 0 -7.5 -1.8 -11.4 -3 -15 -4.4 -18 -6 -19.5 -6.9 -22.2 -9 -23.9 -10.5 -26.8 -13.5 -29.2 -16.5 -31 -19.5 -32.4 -22.5 -33.3 -25.5 -34.1 -28.5 -35.4 -34.5 -36.7 -43.5 -36.9 -45 -37.5 -47.2 -39 -50.2 -40.8 -52.5 -42 -53.6 -43.5 -54.6 -45 -55.3 -46.5 -55.7 -48 -56 -49.5 -56 -51 -55.8 -54 -55.1 -58.5 -53.4 -69 -48.8 -73.5 -47.1 -80.7 -45 -100.5 -40 -105 -38.6 -108 -37.3 -110.2 -36 -112.4 -34.5 -116.3 -31.5 -123 -25.9ZM-123 91.5L-123 90.8 -119.3 94.5 -116.1 97.5 -112.5 100.5 -108 104 -104.4 106.5 -100.5 109 -97.2 111 -93 113.3 -88.5 115.4 -85.5 116.7 -81 118.4 -78 119.4 -73.5 120.7 -69 121.8 -64.5 122.6 -61.3 123 -123 123Z"/>
<path fill="#9f9fff" d="M-123 -123L123 -123 123 123 -24.9 123 -1.5 117.1 1.5 116.5 10.5 115.2 15 114.4 21 113 25.5 111.5 30 109.8 33 108.4 39.4 105 46.5 100.5 50.6 97.5 54 94.7 57.6 91.5 62.1 87 66.1 82.5 69.8 78 74.3 72 77.4 67.5 80.3 63 82.7 58.5 84.8 54 86.5 49.5 87.8 45 88.3 42 88.8 37.5 88.8 34.5 88.4 31.5 87.6 28.5 87 27 86.1 25.5 85.1 24 83.8 22.5 81 20.1 78 18 75.4 16.5 72 14.9 68.6 13.5 64.1 12 58.5 10.5 54 9.5 42 7.2 18 1.9 10.5 0.2 -4.5 -3.8 -9 -5.2 -12 -6.3 -15 -7.8 -18 -9.8 -21 -12.4 -23.3 -15 -24.4 -16.5 -26.3 -19.5 -27.6 -22.5 -28.1 -24 -29.3 -28.5 -30 -33 -30.3 -37.5 -30.6 -46.5 -31 -51 -31.5 -53.9 -31.9 -55.5 -33 -58.6 -34.6 -61.5 -36 -63.2 -37.3 -64.5 -39 -65.7 -40.5 -66.5 -43.2 -67.5 -45 -67.9 -46.5 -68 -49.5 -67.9 -52.5 -67.2 -55.4 -66 -60 -63.4 -70.2 -57 -75 -54.4 -82.4 -51 -100.5 -43.8 -109.5 -39.9 -114 -37.6 -116.7 -36 -123 -31.7ZM-123 99L-123 98.7 -117.3 103.5 -111.2 108 -106.6 111 -102 113.8 -96 116.9 -91.5 119 -85.5 121.3 -80.4 123 -123 123Z"/>
<path fill="#8080ff" d="M-123 -123L123 -123 123 123 -13.7 123 -4.5 120.4 0 119.3 12 117.5 18 116.3 24 114.6 30 112.5 33.3 111 37.5 108.9 41.8 106.5 46.6 103.5 51 100.6 54 98.4 56.9 96 60.4 93 63.5 90 67.8 85.5 71.7 81 76.5 75 79.9 70.5 83 66 85.7 61.5 88.1 57 90 52.5 91.6 48 92.7 43.5 93.5 39 93.7 34.5 93.5 31.5 92.9 28.5 91.8 25.5 90.2 22.5 89.1 21 87.7 19.5 85.5 17.5 82.5 15.4 79.5 13.7 76.1 12 72 10.4 66 8.5 58.5 6.7 40.5 3.6 19.5 -0.6 6 -3.8 -3 -6.1 -7.5 -7.6 -10.5 -8.9 -12 -9.7 -13.5 -10.6 -15.5 -12 -17.2 -13.5 -18.6 -15 -19.9 -16.5 -21.8 -19.5 -22.6 -21 -23.8 -24 -24.9 -28.5 -25.5 -33 -25.6 -37.5 -25.5 -42 -24.8 -52.5 -24.7 -57 -25.1 -61.5 -25.8 -64.5 -27.1 -67.5 -28.5 -69.6 -30 -71.2 -31.5 -72.5 -33.1 -73.5 -36 -74.9 -37.5 -75.4 -39 -75.8 -42 -76.3 -43.5 -76.4 -46.5 -76.5 -49.5 -76.1 -51 -75.9 -53.9 -75 -55.5 -74.4 -58.5 -72.9 -61.5 -71.1 -75.6 -61.5 -83.1 -57 -106.5 -44.6 -108.8 -43.5 -115.9 -40.5 -118.9 -39 -123 -36.7ZM-123 106.5L-123 106 -116.2 111 -111.5 114 -108 116.1 -100.5 120 -93.6 123 -123 123Z"/>
<path fill="#6060ff" d="M-123 -123L123 -123 123 123 -3.6 123 1.5 121.8 13.5 119.8 21 118.1 25.5 116.8 28.5 115.8 34.5 113.3 39 111 43.5 108.5 49.3 105 53.8 102 57.9 99 61.5 96 64.9 93 68 90 72.2 85.5 76.2 81 81.1 75 84.5 70.5 87.6 66 90.3 61.5 91.9 58.5 94 54 95.7 49.5 97 45 98 40.5 98.5 36 98.6 31.5 98.2 28.5 97.5 25.5 96.4 22.5 94.6 19.5 93.5 18 91.5 15.9 88.6 13.5 85.5 11.5 81 9.1 76.5 7.1 73.5 6.1 70.5 5.2 66 4.1 58.5 2.5 54 1.8 45 0.9 42 0.4 22.5 -3 9 -5.8 1.5 -7.7 -4.5 -9.5 -6.9 -10.5 -9 -11.6 -12 -13.5 -13.8 -15 -15.3 -16.5 -16.5 -18 -18.3 -21 -19 -22.5 -20.1 -25.5 -20.8 -28.5 -21.2 -31.5 -21.3 -34.5 -21.3 -37.5 -20.7 -43.5 -19.9 -48 -17.5 -58.5 -16.8 -63 -16.8 -66 -17.3 -69 -18 -71.1 -19.3 -73.5 -20.4 -75 -21.9 -76.5 -23.6 -78 -25.8 -79.5 -28.5 -80.9 -31.5 -82 -34.5 -82.7 -37.5 -83.1 -40.5 -83.3 -45 -83.3 -49.5 -82.7 -52.5 -82 -55.5 -81 -58.5 -79.7 -61.9 -78 -66 -75.5 -79.5 -66 -83.9 -63 -107.7 -48 -110.6 -46.5 -118.3 -43.5 -123 -41.4ZM-123 114L-123 113 -118.5 115.9 -114.2 118.5 -109.5 121.1 -105.6 123 -123 123Z"/>
<path fill="#4040ff" d="M-123 -123L123 -123 123 123 10.6 123 16.5 121.9 22.5 120.4 27 119.1 31.5 117.4 36 115.5 40.5 113.2 51 107.2 54.5 105 58.8 102 62.7 99 66.3 96 69.6 93 73.5 89.1 80.8 81 84.6 76.5 88.1 72 91.3 67.5 93.3 64.5 95 61.5 97.3 57 99.3 52.5 100.8 48 102.1 43.5 103.1 39 103.7 34.5 103.8 31.5 103.6 27 103 24 102.2 21 100.9 18 99 15 97.5 13.1 96 11.6 93 9.3 88.5 6.7 82.5 3.7 79.5 2.3 75 0.6 70.5 -0.5 63 -2 60 -2.5 55.5 -2.9 45 -3.3 40.5 -3.8 22.5 -6.4 9 -8.7 1.5 -10.5 -3 -12 -6 -13.4 -7.5 -14.3 -10.4 -16.5 -12 -18.2 -13.1 -19.5 -14 -21 -15 -22.9 -16 -25.5 -16.4 -27 -16.9 -30 -17.1 -33 -17 -36 -16.7 -39 -16.2 -42 -15.4 -45 -14.4 -48 -12 -53.8 -7.4 -63 -6.4 -66 -6.1 -67.5 -6 -69 -6.1 -70.5 -6.4 -72 -7 -73.5 -7.8 -75 -8.8 -76.5 -10.5 -78.5 -13.2 -81 -16.5 -83.4 -20.1 -85.5 -23.5 -87 -27 -88.1 -30 -88.8 -34.5 -89.4 -39 -89.6 -43.5 -89.5 -48 -88.9 -52.5 -87.9 -55.6 -87 -60 -85.3 -65.4 -82.5 -70.5 -79.2 -89 -66 -104 -55.5 -108.5 -52.5 -111 -51.1 -114 -49.6 -123 -46ZM-123 120L-123 119.7 -117.2 123 -123 123Z"/>
<path fill="#2020ff" d="M-123 -123L123 -123 123 123 23.3 123 27 121.9 31.5 120.3 36 118.5 40.5 116.3 46.5 113.1 54 108.8 58.5 105.9 63 102.7 67.5 99.2 70.5 96.6 74.4 93 77.4 90 81.6 85.5 88.2 78 91.9 73.5 94.1 70.5 97.2 66 99 63 101.4 58.5 103.4 54 105.1 49.5 106.5 45 107.8 40.5 108.7 36 109.3 31.5 109.5 28.5 109.4 25.5 109.2 22.5 108.4 18 107.5 15 106.2 12 105 9.7 103.5 7.4 102 5.6 100.5 4.1 97.5 1.8 94.5 0.2 90.7 -1.5 88.5 -2.6 82.5 -6.7 79.5 -8.4 76.5 -9.8 73.5 -10.8 70.5 -11.4 69 -11.5 66 -11.5 63 -11.1 51 -9 46.5 -8.5 40.5 -8.4 33 -8.9 15 -10.9 9 -11.9 4.5 -12.8 1.5 -13.6 -2.2 -15 -4.9 -16.5 -6.9 -18 -9 -20.3 -10.5 -22.5 -11.2 -24 -12.2 -27 -12.7 -30 -12.8 -33 -12.4 -37.5 -11.6 -40.5 -10.6 -43.5 -9.2 -46.5 -7.5 -49.4 -6 -51.6 -3 -55.2 4.8 -63 6 -64.5 7.1 -66 7.8 -67.5 8.2 -69 8.3 -70.5 8 -72 7.5 -73.5 6.7 -75 5.6 -76.5 4.4 -78 1.3 -81 -2.5 -84 -7.1 -87 -12.7 -90 -18 -92.2 -22.5 -93.7 -27 -94.7 -31.5 -95.3 -36 -95.5 -42 -95.3 -48 -94.6 -52.5 -93.6 -57 -92.3 -61.5 -90.6 -64.5 -89.2 -67.5 -87.6 -73.5 -83.8 -104.1 -61.5 -109.5 -57.7 -112.5 -55.9 -115.5 -54.3 -123 -51.1Z"/>
<path fill="#0000ff" d="M-123 -123L123 -123 123 123 32.3 123 37.5 120.9 42.5 118.5 49.5 114.8 56.2 111 60.9 108 65.3 105 70.5 101 74.6 97.5 79.4 93 85.2 87 90.8 81 95.8 75 99.2 70.5 102.2 66 104.8 61.5 107.1 57 109 52.5 110.7 48 113.1 40.5 114.3 36 115.1 31.5 115.7 27 115.9 24 115.9 19.5 115.4 13.5 114.4 7.5 113.4 3 110.1 -9 107.8 -21 106.9 -24 105.7 -27 105 -28.5 103.5 -30.5 102 -31.7 99.5 -33 88.5 -36.7 84 -38.6 76.5 -42 73.5 -43.1 72 -43.5 70.5 -43.7 69 -43.7 67.5 -43.4 66 -42.9 64.5 -41.9 63 -40.4 61.3 -37.5 60 -34.8 56.2 -25.5 54.7 -22.5 54 -21.4 52.4 -19.5 50.8 -18 48.4 -16.5 46.5 -15.6 43.5 -14.7 39 -14 34.5 -13.7 27 -14 15 -14.7 9 -15.3 6 -15.8 3.2 -16.5 1.5 -17.1 -0.7 -18 -3.1 -19.5 -4.7 -21 -5.9 -22.5 -6.7 -24 -7.4 -25.5 -8.1 -28.5 -8.3 -31.5 -8.2 -33 -7.8 -36 -7.4 -37.5 -6.2 -40.5 -4.6 -43.5 -2.3 -46.5 0 -48.8 3 -51.2 6 -53.2 9 -54.8 12 -56.2 24 -60.9 25.5 -61.6 27.8 -63 29.2 -64.5 30 -66 30.3 -67.5 30.1 -69 29.5 -70.5 28.5 -72 27.1 -73.5 25.3 -75 21.3 -78 12.9 -84 8.3 -87 3.2 -90 0 -91.7 -4.5 -93.9 -9 -95.9 -12 -97 -16.5 -98.5 -19.5 -99.3 -24 -100.3 -27 -100.7 -31.5 -101.1 -36 -101.2 -40.5 -101 -46.5 -100.4 -51 -99.6 -55.5 -98.5 -60 -97.1 -64.5 -95.3 -67.5 -93.8 -70.5 -92.2 -76.5 -88.4 -90 -78.7 -105.1 -67.5 -111 -63.3 -116.5 -60 -123 -56.8Z"/>
<path fill="#0000e0" d="M-123 -123L123 -123 123 4.6 122.4 -1.5 121.1 -9 119.6 -15 117.7 -21 115.8 -25.5 113.3 -30 111 -33 109.7 -34.5 108.1 -36 105 -38.1 97.5 -42 92.2 -45 78.6 -54 76.5 -55.3 73.5 -56.9 70.5 -58.2 67.5 -59.2 64.5 -60.1 55.5 -62.4 52.5 -63.4 51 -64.2 49.5 -65.1 48 -66.3 46.5 -67.8 40 -75 36.7 -78 34.8 -79.5 30.4 -82.5 20.8 -88.5 15 -91.9 7.5 -95.9 0.6 -99 -7.1 -102 -13.5 -104 -19.5 -105.5 -25.5 -106.5 -31.5 -106.9 -37.5 -106.9 -43.5 -106.4 -51 -105.3 -57 -103.9 -63 -101.9 -66.5 -100.5 -70.5 -98.6 -73.5 -97 -78 -94.3 -86.4 -88.5 -111 -70.5 -117 -66.6 -123 -63.4ZM31.9 -52.5L34.5 -53 37.5 -53.2 39 -53.1 40.5 -52.8 41.3 -52.5 42 -52.2 43.6 -51 45 -49.2 46.2 -46.5 47 -43.5 47.5 -40.5 47.6 -37.5 47.4 -34.5 46.9 -31.5 45.9 -28.5 45.2 -27 44.3 -25.5 43.1 -24 41.1 -22.5 39 -21.5 37.5 -20.9 34.5 -20.2 31.5 -19.8 25.5 -19.4 15 -19.1 12 -19.2 9 -19.5 6 -20 3 -20.8 1.5 -21.5 -0.1 -22.5 -1.5 -24.2 -2.2 -25.5 -2.7 -27 -3 -28.5 -3.1 -30 -3.1 -31.5 -2.8 -33 -1.9 -36 -1.2 -37.5 -0.4 -39 1.5 -41.4 3 -42.9 4.5 -44.1 7.5 -45.9 9 -46.6 12 -47.7 24 -50.7ZM122.9 21L123 19.5 123 123 40 123 45 120.6 49.1 118.5 58.5 113.3 66 108.5 72 104.1 76.4 100.5 79.5 97.8 86.2 91.5 93.4 84 97.4 79.5 99.9 76.5 104.4 70.5 108.3 64.5 111.6 58.5 115 51 117.9 43.5 120.2 36 121 33 121.9 28.5Z"/>
<path fill="#0000c0" d="M-123 -123L123 -123 123 -26.5 120.8 -30 118.4 -33 115.5 -36 113.8 -37.5 111 -39.6 102.9 -45 97 -49.5 85.5 -58.6 81 -61.8 76.5 -64.7 70.5 -68 61.5 -72.5 57 -74.9 52.5 -77.6 43 -84 38.2 -87 25.2 -94.5 16.5 -99.1 12 -101.2 7.5 -103.2 -1.5 -106.6 -10.6 -109.5 -15 -110.6 -19.5 -111.6 -24 -112.2 -30 -112.7 -36 -112.8 -42 -112.3 -49.5 -111.4 -55.5 -110.2 -61.5 -108.6 -66 -107 -70.5 -105.1 -73.8 -103.5 -78 -101.2 -82.5 -98.5 -91.5 -92.4 -112.5 -77.3 -118.3 -73.5 -123 -70.7ZM15.8 -40.5L19.5 -40.9 24 -40.9 27.2 -40.5 28.5 -40.1 30 -39.5 30.8 -39 32.1 -37.5 32.7 -36 32.8 -34.5 32.4 -33 31.7 -31.5 30.3 -30 28.1 -28.5 24.3 -27 19.5 -25.9 16.9 -25.5 15 -25.4 12 -25.4 10.5 -25.7 9 -26.1 7 -27 5.6 -28.5 5.1 -30 5 -31.5 5.4 -33 6.1 -34.5 7.5 -36.4 8.7 -37.5 10.5 -38.7 12 -39.4 13.5 -39.9ZM122.7 46.5L123 45.6 123 123 47.2 123 54 119.5 61.2 115.5 67.5 111.5 72.6 108 78.5 103.5 83.8 99 88.6 94.5 94.7 88.5 100.4 82.5 104.2 78 107.7 73.5 110.9 69 113.8 64.5 117.1 58.5 120.1 52.5Z"/>
<path fill="#0000a0" d="M-123 -123L123 -123 123 -36.5 120.2 -39 117 -41.5 109 -46.5 105.6 -49.5 97.5 -57.1 93 -61.2 87.2 -66 82.5 -69.5 78 -72.5 73.5 -75.3 45.6 -91.5 34.7 -97.5 26.1 -102 19.5 -105.2 13.1 -108 4.5 -111.2 -6 -114.6 -13.5 -116.6 -19.5 -117.8 -25.5 -118.5 -31.5 -118.9 -37.5 -118.8 -43.5 -118.3 -49.5 -117.6 -55.5 -116.4 -61.5 -114.9 -67.5 -113 -72 -111.2 -76.5 -109.1 -81 -106.7 -85.5 -104.1 -94.5 -98.2 -114.8 -84 -123 -78.8ZM123 58.5L123 123 54.5 123 60 120 65.3 117 70.1 114 75 110.7 79.5 107.4 84.3 103.5 89.6 99 94.5 94.5 99.1 90 103.5 85.5 107.5 81 111.2 76.5 114.6 72 117.6 67.5 120.4 63Z"/>
<path fill="#000080" d="M-123 -123L-121.5 -123 -55.4 -123 -63 -121.2 -69 -119.2 -76.5 -116.2 -82.5 -113.3 -88.5 -110 -94.5 -106.4 -101.2 -102 -115.5 -92.3 -123 -87.5ZM-13.2 -123L123 -123 123 -44.2 115.2 -49.5 111.3 -52.5 108.1 -55.5 97.5 -66 93 -70 88.5 -73.6 82.5 -78 76.5 -82.1 70.5 -85.9 63 -90.3 52.5 -96.2 36 -104.8 28.5 -108.6 21 -112 13.5 -115 6 -117.5 -6 -121.2ZM122.6 69L123 68.4 123 123 61.8 123 70.5 118 78.8 112.5 86.8 106.5 91.5 102.7 95.7 99 103.7 91.5 110.9 84 113.5 81 117.2 76.5Z"/>
<path fill="#000060" d="M-123 -123L-121.5 -123 -78.1 -123 -82.5 -121.1 -87 -118.8 -95.8 -114 -103.5 -109.3 -123 -96.7ZM11.5 -123L123 -123 123 -52.3 118.8 -55.5 115.2 -58.5 111.9 -61.5 102 -71.2 97.8 -75 94.5 -77.8 90 -81.4 85.5 -84.7 79.5 -88.9 73.5 -92.8 66 -97.3 58.5 -101.5 34.5 -113.6 28.5 -116.4 22.5 -119 16.5 -121.3ZM122.2 78L123 77 123 123 69.3 123 76.5 118.6 83.4 114 90 109.1 97.5 103 105.4 96 111.6 90 117.2 84Z"/>
<path fill="#000040" d="M-123 -123L-96 -123 -95.1 -123 -105.8 -117 -123 -106.5ZM31.8 -123L123 -123 123 -61.8 117 -67.1 105.5 -78 99 -83.6 94.5 -87.2 90 -90.7 81 -97 72 -102.7 63 -107.7 55.5 -111.6 42 -118.2ZM122.4 85.5L123 84.8 123 123 76.8 123 82.5 119.4 88.5 115.3 94.4 111 100.5 106.2 106.5 101.1 112.1 96 117 91.2Z"/>
<path fill="#000020" d="M-123 -123L-121.5 -123 -111.9 -123 -123 -116.6ZM50.4 -123L123 -123 123 -72.6 112.2 -82.5 105 -88.8 97.5 -94.8 88.5 -101.4 80.9 -106.5 72 -111.8 63 -116.7ZM122.1 93L123 92.1 123 123 84.4 123 93.4 117 99 112.9 103.5 109.4 112.5 101.9 117.4 97.5Z"/>
</g>
<path class="ol" d="M-11.9 -117.2C-9.6 -128.2 -5.2 -136.5 0 -136.5C5.2 -136.5 9.6 -128.2 11.9 -117.2"/>
<circle class="ol" r="117.8"/>
<circle class="el" cx="-27.1" cy="-84.5" r="2.8"/>
<circle class="el" cx="27.1" cy="-84.5" r="2.8"/>
<circle class="el" cx="-51.7" cy="-72.0" r="2.8"/>
<circle class="el" cx="-27.1" cy="-67.5" r="2.8"/>
<circle class="el" cx="0" cy="-66.0" r="2.8"/>
<circle class="el" cx="27.1" cy="-67.5" r="2.8"/>
<circle class="el" cx="51.7" cy="-72.0" r="2.8"/>
<circle class="el" cx="-71.6" cy="-52.0" r="2.8"/>
<circle class="el" cx="-54.7" cy="-48.0" r="2.8"/>
<circle class="el" cx="-37.1" cy="-46.0" r="2.8"/>
<circle class="el" cx="-18.0" cy="-45.0" r="2.8"/>
<circle class="el" cx="0" cy="-44.5" r="2.8"/>
<circle class="el" cx="18.0" cy="-45.0" r="2.8"/>
<circle class="el" cx="37.1" cy="-46.0" r="2.8"/>
<circle class="el" cx="54.7" cy="-48.0" r="2.8"/>
<circle class="el" cx="71.6" cy="-52.0" r="2.8"/>
<circle class="el" cx="-105.4" cy="-34.7" r="2.8"/>
<circle class="el" cx="-84.1" cy="-27.5" r="2.8"/>
<circle class="el" cx="-63.2" cy="-24.5" r="2.8"/>
<circle class="el" cx="-42.2" cy="-23.2" r="2.8"/>
<circle class="el" cx="-21.1" cy="-22.4" r="2.8"/>
<circle class="el" cx="0" cy="-22.4" r="2.8"/>
<circle class="el" cx="21.1" cy="-22.4" r="2.8"/>
<circle class="el" cx="42.2" cy="-23.2" r="2.8"/>
<circle class="el" cx="63.2" cy="-24.5" r="2.8"/>
<circle class="el" cx="84.1" cy="-27.5" r="2.8"/>
<circle class="el" cx="105.4" cy="-34.7" r="2.8"/>
<circle class="el" cx="-88.2" cy="0" r="2.8"/>
<circle class="el" cx="-66.5" cy="0" r="2.8"/>
<circle class="el" cx="-44.1" cy="0" r="2.8"/>
<circle class="el" cx="-22.3" cy="0" r="2.8"/>
<circle class="el" cx="0" cy="0" r="2.8"/>
<circle class="el" cx="22.3" cy="0" r="2.8"/>
<circle class="el" cx="44.1" cy="0" r="2.8"/>
<circle class="el" cx="66.5" cy="0" r="2.8"/>
<circle class="el" cx="88.2" cy="0" r="2.8"/>
<circle class="el" cx="-84.1" cy="27.0" r="2.8"/>
<circle class="el" cx="-63.2" cy="24.2" r="2.8"/>
<circle class="el" cx="-42.2" cy="23.0" r="2.8"/>
<circle class="el" cx="-21.1" cy="21.8" r="2.8"/>
<circle class="el" cx="0" cy="21.5" r="2.8"/>
<circle class="el" cx="21.1" cy="21.8" r="2.8"/>
<circle class="el" cx="42.2" cy="23.0" r="2.8"/>
<circle class="el" cx="63.2" cy="24.2" r="2.8"/>
<circle class="el" cx="84.1" cy="27.0" r="2.8"/>
<circle class="el" cx="-71.6" cy="51.8" r="2.8"/>
<circle class="el" cx="-54.7" cy="47.4" r="2.8"/>
<circle class="el" cx="-37.1" cy="45.6" r="2.8"/>
<circle class="el" cx="-18.0" cy="44.2" r="2.8"/>
<circle class="el" cx="0" cy="43.5" r="2.8"/>
<circle class="el" cx="18.0" cy="44.2" r="2.8"/>
<circle class="el" cx="37.1" cy="45.6" r="2.8"/>
<circle class="el" cx="54.7" cy="47.4" r="2.8"/>
<circle class="el" cx="71.6" cy="51.8" r="2.8"/>
<circle class="el" cx="-51.7" cy="71.2" r="2.8"/>
<circle class="el" cx="-27.1" cy="67.0" r="2.8"/>
<circle class="el" cx="0" cy="65.5" r="2.8"/>
<circle class="el" cx="27.1" cy="67.0" r="2.8"/>
<circle class="el" cx="51.7" cy="71.2" r="2.8"/>
<circle class="el" cx="-27.1" cy="83.7" r="2.8"/>
<circle class="el" cx="0" cy="88.0" r="2.8"/>
<circle class="el" cx="27.1" cy="83.7" r="2.8"/>
</g>
<g shape-rendering="crispEdges">
<rect x="927.1" y="263.30" width="6.2" height="6.38" fill="#200000"/>
<rect x="927.1" y="269.38" width="6.2" height="6.38" fill="#400000"/>
<rect x="927.1" y="275.46" width="6.2" height="6.38" fill="#600000"/>
<rect x="927.1" y="281.54" width="6.2" height="6.38" fill="#800000"/>
<rect x="927.1" y="287.62" width="6.2" height="6.38" fill="#a00000"/>
<rect x="927.1" y="293.71" width="6.2" height="6.38" fill="#c00000"/>
<rect x="927.1" y="299.79" width="6.2" height="6.38" fill="#e00000"/>
<rect x="927.1" y="305.87" width="6.2" height="6.38" fill="#ff0000"/>
<rect x="927.1" y="311.95" width="6.2" height="6.38" fill="#ff2020"/>
<rect x="927.1" y="318.03" width="6.2" height="6.38" fill="#ff4040"/>
<rect x="927.1" y="324.11" width="6.2" height="6.38" fill="#ff6060"/>
<rect x="927.1" y="330.19" width="6.2" height="6.38" fill="#ff8080"/>
<rect x="927.1" y="336.27" width="6.2" height="6.38" fill="#ff9f9f"/>
<rect x="927.1" y="342.36" width="6.2" height="6.38" fill="#ffbfbf"/>
<rect x="927.1" y="348.44" width="6.2" height="6.38" fill="#ffdfdf"/>
<rect x="927.1" y="354.52" width="6.2" height="6.38" fill="#ffffff"/>
<rect x="927.1" y="360.60" width="6.2" height="6.38" fill="#ffffff"/>
<rect x="927.1" y="366.68" width="6.2" height="6.38" fill="#dfdfff"/>
<rect x="927.1" y="372.76" width="6.2" height="6.38" fill="#bfbfff"/>
<rect x="927.1" y="378.84" width="6.2" height="6.38" fill="#9f9fff"/>
<rect x="927.1" y="384.92" width="6.2" height="6.38" fill="#8080ff"/>
<rect x="927.1" y="391.01" width="6.2" height="6.38" fill="#6060ff"/>
<rect x="927.1" y="397.09" width="6.2" height="6.38" fill="#4040ff"/>
<rect x="927.1" y="403.17" width="6.2" height="6.38" fill="#2020ff"/>
<rect x="927.1" y="409.25" width="6.2" height="6.38" fill="#0000ff"/>
<rect x="927.1" y="415.33" width="6.2" height="6.38" fill="#0000e0"/>
<rect x="927.1" y="421.41" width="6.2" height="6.38" fill="#0000c0"/>
<rect x="927.1" y="427.49" width="6.2" height="6.38" fill="#0000a0"/>
<rect x="927.1" y="433.57" width="6.2" height="6.38" fill="#000080"/>
<rect x="927.1" y="439.66" width="6.2" height="6.38" fill="#000060"/>
<rect x="927.1" y="445.74" width="6.2" height="6.38" fill="#000040"/>
<rect x="927.1" y="451.82" width="6.2" height="6.38" fill="#000020"/>
<rect x="933.0" y="263.0" width="1.4" height="195.2" fill="#000"/>
<rect x="934.3" y="263.3" width="0.8" height="1" fill="#000"/>
<rect x="934.3" y="360.6" width="0.8" height="1" fill="#000"/>
<rect x="934.3" y="456.9" width="0.8" height="1" fill="#000"/>
</g>
<g class="ttl"><text transform="translate(39.6 40) scale(1.0705 1)">(A) Retrieval practice minus Repeated studying</text>
<text transform="translate(561.4 40) scale(1.0695 1)">(B) Retrieval practice minus New condition</text></g>
<g class="lab"><text x="115.6" y="196.3">N400</text><text x="117.1" y="223.5">(400-600 ms)</text>
<text x="109.2" y="497.6">LPC</text><text x="116.3" y="524.8">(600-800 ms)</text></g>
<g class="cb"><text x="936.7" y="272.6">1.2 μv</text><text x="937.8" y="370.6">0 μv</text><text x="937.4" y="457.8">-1.2 μv</text></g>
</svg>
</body></html>
